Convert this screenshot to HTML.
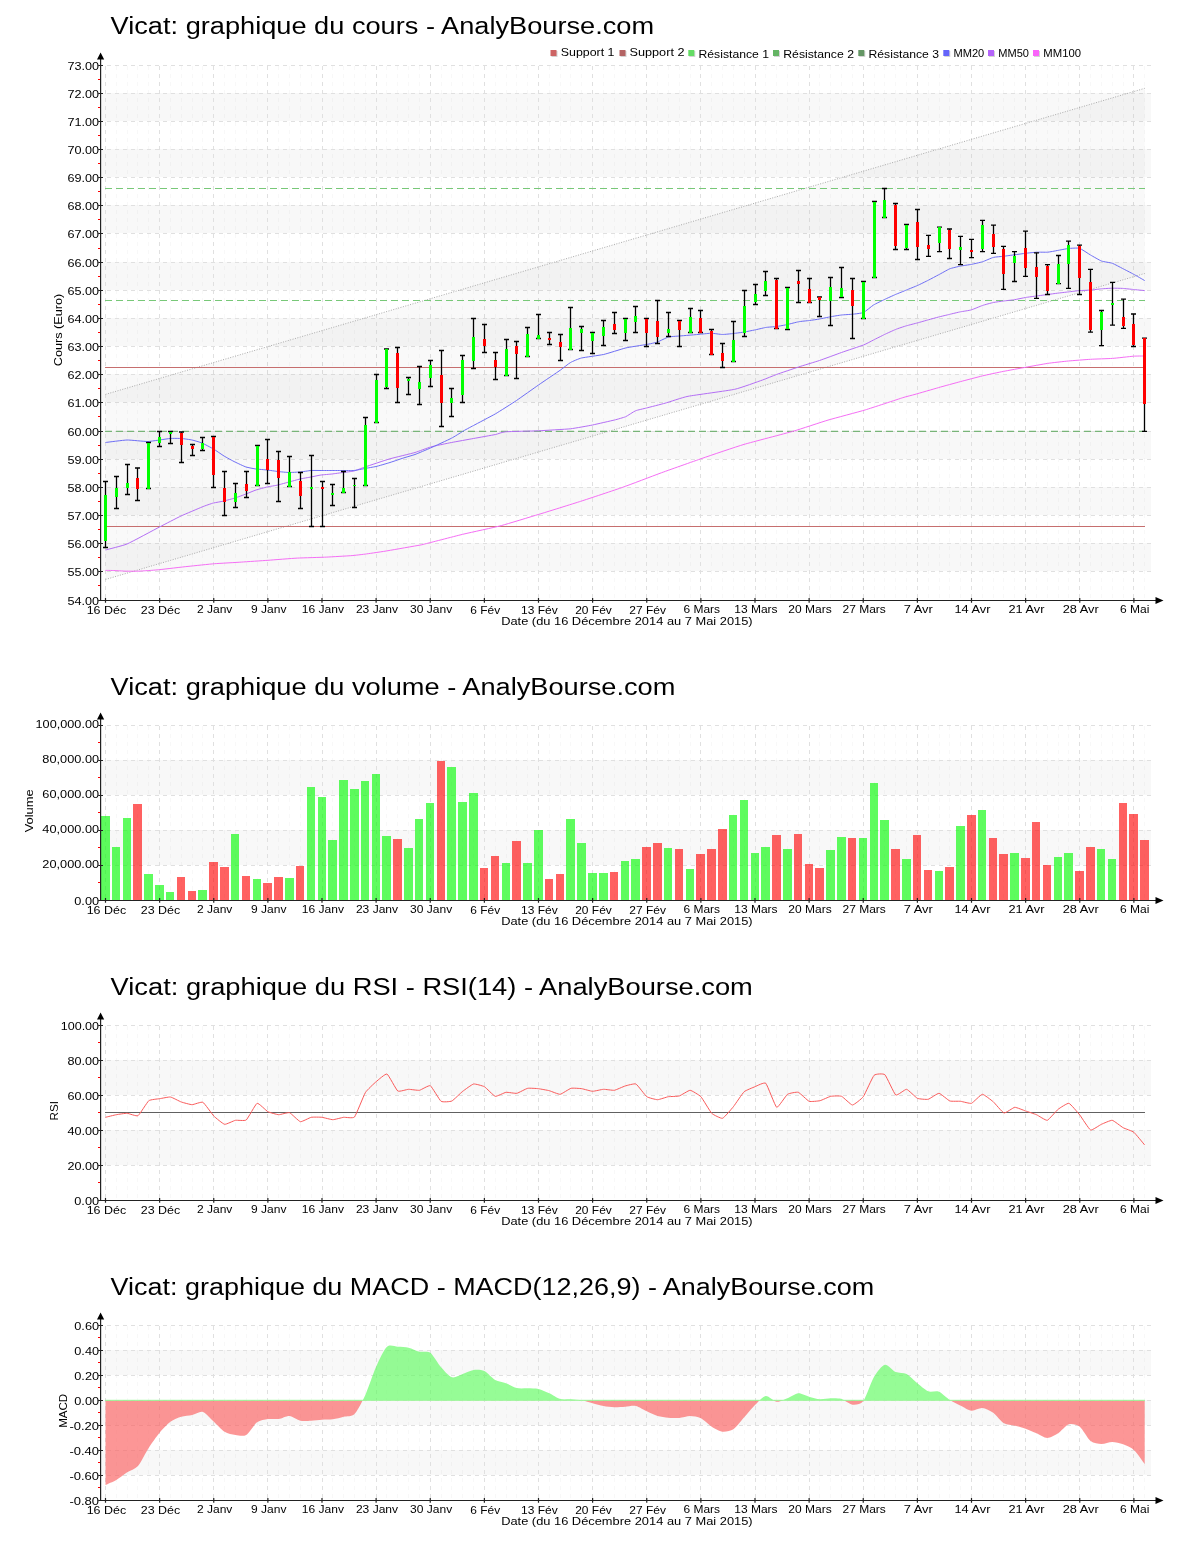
<!DOCTYPE html>
<html><head><meta charset="utf-8"><title>Vicat</title>
<style>html,body{margin:0;padding:0;background:#fff}svg{display:block;will-change:transform}text{font-family:"Liberation Sans",sans-serif}</style>
</head><body>
<svg width="1200" height="1550" viewBox="0 0 1200 1550">
<rect width="1200" height="1550" fill="#fff"/>
<text x="110.60" y="34.40" font-size="23" text-anchor="start" textLength="543.50" lengthAdjust="spacingAndGlyphs" fill="#000">Vicat: graphique du cours - AnalyBourse.com</text>
<rect x="101.5" y="93.00" width="1049.5" height="28.00" fill="#f8f8f8" shape-rendering="crispEdges"/>
<rect x="101.5" y="149.00" width="1049.5" height="28.00" fill="#f8f8f8" shape-rendering="crispEdges"/>
<rect x="101.5" y="205.00" width="1049.5" height="28.00" fill="#f8f8f8" shape-rendering="crispEdges"/>
<rect x="101.5" y="262.00" width="1049.5" height="28.00" fill="#f8f8f8" shape-rendering="crispEdges"/>
<rect x="101.5" y="318.00" width="1049.5" height="28.00" fill="#f8f8f8" shape-rendering="crispEdges"/>
<rect x="101.5" y="374.00" width="1049.5" height="28.00" fill="#f8f8f8" shape-rendering="crispEdges"/>
<rect x="101.5" y="431.00" width="1049.5" height="28.00" fill="#f8f8f8" shape-rendering="crispEdges"/>
<rect x="101.5" y="487.00" width="1049.5" height="28.00" fill="#f8f8f8" shape-rendering="crispEdges"/>
<rect x="101.5" y="543.00" width="1049.5" height="28.00" fill="#f8f8f8" shape-rendering="crispEdges"/>
<path d="M116.33 66.00V600.00M127.15 66.00V600.00M137.97 66.00V600.00M148.80 66.00V600.00M170.45 66.00V600.00M181.28 66.00V600.00M192.10 66.00V600.00M202.93 66.00V600.00M224.58 66.00V600.00M235.40 66.00V600.00M246.23 66.00V600.00M257.05 66.00V600.00M278.70 66.00V600.00M289.52 66.00V600.00M300.35 66.00V600.00M311.18 66.00V600.00M332.83 66.00V600.00M343.65 66.00V600.00M354.48 66.00V600.00M365.30 66.00V600.00M386.95 66.00V600.00M397.78 66.00V600.00M408.60 66.00V600.00M419.43 66.00V600.00M441.08 66.00V600.00M451.90 66.00V600.00M462.73 66.00V600.00M473.55 66.00V600.00M495.20 66.00V600.00M506.03 66.00V600.00M516.85 66.00V600.00M527.68 66.00V600.00M549.33 66.00V600.00M560.15 66.00V600.00M570.98 66.00V600.00M581.80 66.00V600.00M603.45 66.00V600.00M614.28 66.00V600.00M625.10 66.00V600.00M635.93 66.00V600.00M657.58 66.00V600.00M668.40 66.00V600.00M679.23 66.00V600.00M690.05 66.00V600.00M711.70 66.00V600.00M722.53 66.00V600.00M733.35 66.00V600.00M744.18 66.00V600.00M765.83 66.00V600.00M776.65 66.00V600.00M787.48 66.00V600.00M798.30 66.00V600.00M819.95 66.00V600.00M830.78 66.00V600.00M841.60 66.00V600.00M852.43 66.00V600.00M874.08 66.00V600.00M884.90 66.00V600.00M895.73 66.00V600.00M906.55 66.00V600.00M928.20 66.00V600.00M939.03 66.00V600.00M949.85 66.00V600.00M960.68 66.00V600.00M982.33 66.00V600.00M993.15 66.00V600.00M1003.98 66.00V600.00M1014.80 66.00V600.00M1036.45 66.00V600.00M1047.28 66.00V600.00M1058.10 66.00V600.00M1068.93 66.00V600.00M1090.58 66.00V600.00M1101.40 66.00V600.00M1112.23 66.00V600.00M1123.05 66.00V600.00M1144.70 66.00V600.00" stroke="rgba(0,0,0,0.026)" stroke-width="1" stroke-dasharray="4 4" fill="none" shape-rendering="crispEdges"/>
<path d="M105.50 66.00V600.00M159.62 66.00V600.00M213.75 66.00V600.00M267.88 66.00V600.00M322.00 66.00V600.00M376.12 66.00V600.00M430.25 66.00V600.00M484.38 66.00V600.00M538.50 66.00V600.00M592.62 66.00V600.00M646.75 66.00V600.00M700.88 66.00V600.00M755.00 66.00V600.00M809.13 66.00V600.00M863.25 66.00V600.00M917.38 66.00V600.00M971.50 66.00V600.00M1025.62 66.00V600.00M1079.75 66.00V600.00M1133.88 66.00V600.00" stroke="#e0e0e0" stroke-width="1" stroke-dasharray="4 4" fill="none" shape-rendering="crispEdges"/>
<path d="M107 65.50H1151.0M107 93.50H1151.0M107 121.50H1151.0M107 149.50H1151.0M107 177.50H1151.0M107 205.50H1151.0M107 233.50H1151.0M107 262.50H1151.0M107 290.50H1151.0M107 318.50H1151.0M107 346.50H1151.0M107 374.50H1151.0M107 402.50H1151.0M107 431.50H1151.0M107 459.50H1151.0M107 487.50H1151.0M107 515.50H1151.0M107 543.50H1151.0M107 571.50H1151.0" stroke="#e0e0e0" stroke-width="1" stroke-dasharray="4 4" fill="none" shape-rendering="crispEdges"/>
<polygon points="105.5,394.4 1144.7,88.3 1144.7,273.5 105.5,579.5" fill="rgba(0,0,0,0.025)"/>
<path d="M105.5 394.38L1144.7 88.34M105.5 579.50L1144.7 273.46" stroke="#aaa" stroke-width="1" stroke-dasharray="1 1.5" fill="none"/>
<path d="M105 526.5H1145M105 367.5H1145" stroke="#c66e6e" stroke-width="1" fill="none" shape-rendering="crispEdges"/>
<path d="M105 188.5H1145" stroke="#78c878" stroke-width="1.2" stroke-dasharray="7 4" fill="none"/>
<path d="M105 300.5H1145" stroke="#78c878" stroke-width="1.2" stroke-dasharray="7 4" fill="none"/>
<path d="M105 431.4H1145" stroke="#78b478" stroke-width="1.2" stroke-dasharray="7 4" fill="none"/>
<path d="M105.5 570.4C106.3 570.4 114.4 570.5 116.0 570.6C117.6 570.7 125.4 571.2 127.0 571.2C128.6 571.2 135.4 571.2 137.0 571.2C138.6 571.2 146.3 570.7 148.0 570.6C149.7 570.5 157.0 569.9 160.0 569.6C163.0 569.3 183.9 566.8 188.0 566.4C192.1 566.0 210.7 564.0 214.7 563.7C218.7 563.4 237.3 562.4 241.3 562.1C245.3 561.8 263.8 560.6 268.0 560.3C272.2 560.0 292.9 558.3 297.3 558.1C301.7 557.9 322.7 557.3 326.7 557.1C330.7 556.9 347.7 555.9 350.7 555.7C353.7 555.5 363.9 554.3 366.7 553.9C369.5 553.5 384.0 551.4 388.0 550.7C392.0 550.0 417.1 545.6 420.0 545.1C422.9 544.6 423.4 544.3 426.7 543.5C430.0 542.7 458.4 535.3 464.0 534.0C469.6 532.7 495.7 527.1 501.3 525.6C506.9 524.1 532.7 516.2 538.7 514.4C544.7 512.6 574.4 503.3 580.7 501.3C587.0 499.3 616.8 489.4 622.7 487.3C628.6 485.2 654.1 475.5 660.0 473.3C665.9 471.1 695.7 460.6 702.0 458.4C708.3 456.2 737.2 446.4 744.0 444.4C750.8 442.4 786.7 433.1 793.0 431.3C799.3 429.5 822.6 421.7 828.0 420.1C833.4 418.5 859.7 411.6 865.3 409.9C870.9 408.2 899.0 398.9 902.7 397.7C906.4 396.5 912.3 395.2 915.0 394.4C917.7 393.6 935.2 388.6 938.6 387.6C942.0 386.6 957.2 382.5 960.5 381.6C963.8 380.7 979.2 376.7 982.4 375.9C985.6 375.1 1000.2 372.0 1003.4 371.4C1006.6 370.8 1022.2 367.9 1025.5 367.3C1028.8 366.7 1044.4 363.9 1047.6 363.4C1050.8 362.9 1065.2 361.3 1068.4 361.0C1071.6 360.7 1087.2 359.5 1090.5 359.3C1093.8 359.1 1109.2 358.6 1112.4 358.4C1115.6 358.2 1131.0 356.4 1133.4 356.2C1135.8 356.0 1143.9 356.0 1144.7 356.0" stroke="#f56ef5" stroke-width="1" fill="none"/>
<path d="M105.5 550.0C107.1 549.5 123.0 545.7 127.0 544.0C131.1 542.3 155.4 529.1 159.5 527.0C163.6 524.9 177.8 517.5 181.0 516.0C184.2 514.5 199.6 508.0 202.0 507.0C204.4 506.0 211.8 503.4 213.5 503.0C215.2 502.6 222.4 501.4 224.0 501.0C225.6 500.6 233.3 498.5 235.0 498.0C236.7 497.5 244.4 494.6 246.0 494.0C247.6 493.4 254.4 490.5 256.0 490.0C257.6 489.5 265.4 487.4 267.0 487.0C268.6 486.6 276.4 485.4 278.0 485.0C279.6 484.6 287.4 482.4 289.0 482.0C290.6 481.6 298.4 479.4 300.0 479.0C301.6 478.6 309.4 477.3 311.0 477.0C312.6 476.7 319.4 475.2 321.0 475.0C322.6 474.8 330.4 474.2 332.0 474.0C333.6 473.8 341.4 472.7 343.0 472.5C344.6 472.3 352.4 471.4 354.0 471.0C355.6 470.6 362.3 467.9 365.0 467.0C367.7 466.1 386.2 459.8 390.0 458.8C393.8 457.7 412.0 453.4 415.0 452.5C418.0 451.6 427.8 447.8 430.5 447.0C433.2 446.2 448.3 443.1 451.5 442.5C454.7 441.9 470.2 439.1 473.5 438.5C476.8 437.9 493.1 435.0 495.5 434.5C497.9 434.0 502.3 432.0 505.5 431.8C508.7 431.5 533.6 431.0 538.5 430.8C543.4 430.5 566.5 429.2 570.5 428.8C574.5 428.3 589.2 425.7 592.5 425.0C595.8 424.3 612.0 420.6 614.5 420.0C617.0 419.4 623.9 417.4 625.5 416.8C627.1 416.1 633.9 411.4 635.5 410.8C637.1 410.1 644.3 408.6 646.5 408.0C648.7 407.4 661.9 404.1 665.0 403.2C668.1 402.4 682.8 397.3 688.0 396.3C693.2 395.3 729.1 390.5 734.7 389.3C740.3 388.1 759.4 381.1 762.5 380.0C765.6 378.9 773.8 375.5 776.5 374.5C779.2 373.5 795.3 368.1 798.5 367.0C801.7 365.9 816.3 361.6 819.5 360.5C822.7 359.4 838.2 353.7 841.5 352.5C844.8 351.3 861.1 345.9 863.5 345.0C865.9 344.1 871.9 340.8 873.5 340.0C875.1 339.2 882.9 335.3 884.5 334.5C886.1 333.7 893.9 330.2 895.5 329.5C897.1 328.8 904.9 326.2 906.5 325.8C908.1 325.3 915.9 323.3 917.5 322.9C919.1 322.5 926.8 320.2 928.4 319.8C930.0 319.4 937.0 317.4 938.6 317.0C940.2 316.6 947.9 314.8 949.5 314.4C951.1 314.0 958.9 312.1 960.5 311.8C962.1 311.5 969.7 310.4 971.3 309.9C972.9 309.4 980.7 306.1 982.4 305.5C984.1 304.9 991.8 302.8 993.4 302.5C995.0 302.2 1001.8 301.2 1003.4 301.0C1005.0 300.8 1012.8 300.0 1014.5 299.7C1016.2 299.4 1023.8 297.8 1025.5 297.5C1027.2 297.2 1034.9 296.2 1036.6 296.0C1038.3 295.8 1046.0 294.7 1047.6 294.5C1049.2 294.3 1055.8 293.4 1057.4 293.2C1059.0 293.0 1066.7 292.1 1068.4 291.9C1070.1 291.7 1077.8 290.7 1079.5 290.6C1081.2 290.5 1088.8 290.2 1090.5 290.1C1092.2 290.0 1100.0 288.9 1101.6 288.8C1103.2 288.7 1110.8 288.2 1112.4 288.2C1114.0 288.2 1121.0 288.3 1122.6 288.4C1124.2 288.5 1131.7 289.3 1133.4 289.5C1135.1 289.7 1143.9 290.5 1144.7 290.6" stroke="#b46ef5" stroke-width="1" fill="none"/>
<path d="M105.5 442.5C107.1 442.3 123.8 440.1 127.0 440.0C130.2 439.9 144.8 441.6 148.0 441.5C151.2 441.4 167.5 438.7 170.0 438.5C172.5 438.3 179.8 438.4 181.5 438.5C183.2 438.6 190.5 439.7 192.0 440.0C193.5 440.3 200.4 442.3 202.0 443.0C203.6 443.7 211.8 448.0 213.5 449.0C215.2 450.0 222.4 455.0 224.0 456.0C225.6 457.0 233.3 461.2 235.0 462.0C236.7 462.8 244.4 466.5 246.0 467.0C247.6 467.5 254.4 468.8 256.0 469.0C257.6 469.2 265.4 469.8 267.0 470.0C268.6 470.2 276.4 471.3 278.0 471.5C279.6 471.7 287.4 472.5 289.0 472.5C290.6 472.5 298.4 472.1 300.0 472.0C301.6 471.9 309.4 470.6 311.0 470.5C312.6 470.4 319.4 470.5 321.0 470.5C322.6 470.5 330.4 470.5 332.0 470.5C333.6 470.5 341.4 470.5 343.0 470.5C344.6 470.5 352.4 470.6 354.0 470.5C355.6 470.4 363.4 468.8 365.0 468.5C366.6 468.2 374.1 466.9 376.0 466.5C377.9 466.1 387.8 463.2 390.0 462.5C392.2 461.8 403.1 458.1 405.0 457.5C406.9 456.9 413.1 455.2 415.0 454.5C416.9 453.8 427.8 449.2 430.5 448.0C433.2 446.8 449.1 439.5 451.5 438.2C453.9 437.0 460.9 432.5 462.5 431.5C464.1 430.5 471.0 426.8 473.5 425.5C476.0 424.2 492.3 415.6 495.5 413.8C498.7 411.9 513.3 402.7 516.5 400.5C519.7 398.3 535.2 387.3 538.5 385.0C541.8 382.7 558.1 371.7 560.5 370.0C562.9 368.3 568.9 363.4 570.5 362.5C572.1 361.6 579.0 358.6 581.5 358.0C584.0 357.4 600.2 355.2 603.5 354.5C606.8 353.8 622.3 348.8 625.5 348.0C628.7 347.2 644.1 344.9 646.5 344.5C648.9 344.1 655.9 342.6 657.5 342.0C659.1 341.4 666.9 337.4 668.5 337.0C670.1 336.6 677.1 336.2 679.5 336.0C681.9 335.8 698.1 334.5 700.5 334.2C702.9 334.0 709.9 333.2 711.5 333.2C713.1 333.3 720.9 334.5 722.5 334.5C724.1 334.5 731.9 333.7 733.5 333.5C735.1 333.3 742.9 332.3 744.5 332.0C746.1 331.7 752.9 330.3 754.5 330.0C756.1 329.7 763.9 327.8 765.5 327.5C767.1 327.2 774.9 326.7 776.5 326.5C778.1 326.3 785.9 324.9 787.5 324.5C789.1 324.1 796.9 322.1 798.5 321.8C800.1 321.4 807.9 320.7 809.5 320.5C811.1 320.3 817.9 319.3 819.5 319.0C821.1 318.7 828.9 317.1 830.5 316.8C832.1 316.4 839.9 315.2 841.5 315.0C843.1 314.8 850.9 314.4 852.5 314.2C854.1 314.1 861.9 313.2 863.5 312.5C865.1 311.8 871.9 306.0 873.5 305.0C875.1 304.0 882.9 300.3 884.5 299.5C886.1 298.7 893.9 295.2 895.5 294.5C897.1 293.8 904.9 290.7 906.5 290.0C908.1 289.3 915.9 286.2 917.5 285.5C919.1 284.8 926.8 281.0 928.4 280.2C930.0 279.4 937.0 275.6 938.6 274.8C940.2 274.0 947.9 269.6 949.5 268.9C951.1 268.2 958.9 266.4 960.5 266.1C962.1 265.8 969.7 264.7 971.3 264.4C972.9 264.1 980.7 262.3 982.4 261.8C984.1 261.3 991.8 257.8 993.4 257.4C995.0 257.0 1001.8 256.5 1003.4 256.3C1005.0 256.1 1012.8 255.0 1014.5 254.8C1016.2 254.6 1023.8 253.5 1025.5 253.3C1027.2 253.1 1034.9 252.3 1036.6 252.2C1038.3 252.1 1046.0 252.3 1047.6 252.2C1049.2 252.1 1055.8 250.8 1057.4 250.5C1059.0 250.2 1066.7 248.7 1068.4 248.5C1070.1 248.3 1077.8 247.8 1079.5 248.3C1081.2 248.8 1088.8 254.0 1090.5 255.0C1092.2 256.0 1100.0 260.5 1101.6 261.1C1103.2 261.7 1110.8 262.7 1112.4 263.3C1114.0 263.9 1121.0 267.7 1122.6 268.5C1124.2 269.3 1131.7 273.2 1133.4 274.1C1135.1 275.0 1143.9 280.1 1144.7 280.6" stroke="#6e6ef5" stroke-width="1" fill="none"/>
<path d="M105.50 481.5V547.5M103.00 481.5h5M103.00 547.5h5M116.50 476.5V508.5M114.00 476.5h5M114.00 508.5h5M127.50 464.5V494.5M125.00 464.5h5M125.00 494.5h5M137.50 468.0V500.5M135.00 468.0h5M135.00 500.5h5M148.50 442.5V488.5M146.00 442.5h5M146.00 488.5h5M159.50 431.5V446.5M157.00 431.5h5M157.00 446.5h5M170.50 431.5V443.5M168.00 431.5h5M168.00 443.5h5M181.50 432.0V462.5M179.00 432.0h5M179.00 462.5h5M192.50 444.5V455.5M190.00 444.5h5M190.00 455.5h5M202.50 437.5V450.5M200.00 437.5h5M200.00 450.5h5M213.50 436.5V487.5M211.00 436.5h5M211.00 487.5h5M224.50 471.5V515.5M222.00 471.5h5M222.00 515.5h5M235.50 483.5V507.5M233.00 483.5h5M233.00 507.5h5M246.50 471.5V497.5M244.00 471.5h5M244.00 497.5h5M257.50 445.5V485.5M255.00 445.5h5M255.00 485.5h5M267.50 439.5V483.5M265.00 439.5h5M265.00 483.5h5M278.50 451.5V501.5M276.00 451.5h5M276.00 501.5h5M289.50 456.5V486.5M287.00 456.5h5M287.00 486.5h5M300.50 472.5V508.5M298.00 472.5h5M298.00 508.5h5M311.50 455.5V526.5M309.00 455.5h5M309.00 526.5h5M322.50 481.5V526.5M320.00 481.5h5M320.00 526.5h5M332.50 484.5V505.5M330.00 484.5h5M330.00 505.5h5M343.50 471.5V492.5M341.00 471.5h5M341.00 492.5h5M354.50 478.5V507.5M352.00 478.5h5M352.00 507.5h5M365.50 417.5V485.5M363.00 417.5h5M363.00 485.5h5M376.50 374.5V422.5M374.00 374.5h5M374.00 422.5h5M386.50 349.0V388.5M384.00 349.0h5M384.00 388.5h5M397.50 347.5V402.5M395.00 347.5h5M395.00 402.5h5M408.50 377.5V394.5M406.00 377.5h5M406.00 394.5h5M419.50 366.5V404.5M417.00 366.5h5M417.00 404.5h5M430.50 360.5V386.5M428.00 360.5h5M428.00 386.5h5M441.50 350.5V426.5M439.00 350.5h5M439.00 426.5h5M451.50 388.5V416.5M449.00 388.5h5M449.00 416.5h5M462.50 355.5V402.5M460.00 355.5h5M460.00 402.5h5M473.50 318.5V368.5M471.00 318.5h5M471.00 368.5h5M484.50 324.5V352.5M482.00 324.5h5M482.00 352.5h5M495.50 352.5V379.5M493.00 352.5h5M493.00 379.5h5M506.50 339.5V375.5M504.00 339.5h5M504.00 375.5h5M516.50 341.5V378.5M514.00 341.5h5M514.00 378.5h5M527.50 327.5V356.5M525.00 327.5h5M525.00 356.5h5M538.50 314.5V338.5M536.00 314.5h5M536.00 338.5h5M549.50 332.5V344.5M547.00 332.5h5M547.00 344.5h5M560.50 334.5V360.5M558.00 334.5h5M558.00 360.5h5M570.50 307.5V349.5M568.00 307.5h5M568.00 349.5h5M581.50 326.5V350.5M579.00 326.5h5M579.00 350.5h5M592.50 332.5V353.5M590.00 332.5h5M590.00 353.5h5M603.50 320.5V345.5M601.00 320.5h5M601.00 345.5h5M614.50 312.5V333.5M612.00 312.5h5M612.00 333.5h5M625.50 318.5V340.5M623.00 318.5h5M623.00 340.5h5M635.50 306.5V332.5M633.00 306.5h5M633.00 332.5h5M646.50 318.5V346.5M644.00 318.5h5M644.00 346.5h5M657.50 300.5V343.5M655.00 300.5h5M655.00 343.5h5M668.50 312.5V336.5M666.00 312.5h5M666.00 336.5h5M679.50 320.5V346.5M677.00 320.5h5M677.00 346.5h5M690.50 308.5V332.5M688.00 308.5h5M688.00 332.5h5M700.50 310.5V332.5M698.00 310.5h5M698.00 332.5h5M711.50 329.5V354.5M709.00 329.5h5M709.00 354.5h5M722.50 343.5V367.5M720.00 343.5h5M720.00 367.5h5M733.50 321.5V361.5M731.00 321.5h5M731.00 361.5h5M744.50 290.5V336.5M742.00 290.5h5M742.00 336.5h5M755.50 284.5V304.5M753.00 284.5h5M753.00 304.5h5M765.50 271.5V295.5M763.00 271.5h5M763.00 295.5h5M776.50 278.5V328.5M774.00 278.5h5M774.00 328.5h5M787.50 287.5V329.5M785.00 287.5h5M785.00 329.5h5M798.50 270.5V302.5M796.00 270.5h5M796.00 302.5h5M809.50 278.5V302.5M807.00 278.5h5M807.00 302.5h5M819.50 297.0V316.5M817.00 297.0h5M817.00 316.5h5M830.50 277.5V325.5M828.00 277.5h5M828.00 325.5h5M841.50 267.5V297.5M839.00 267.5h5M839.00 297.5h5M852.50 278.5V338.5M850.00 278.5h5M850.00 338.5h5M863.50 281.5V318.5M861.00 281.5h5M861.00 318.5h5M874.50 201.5V277.5M872.00 201.5h5M872.00 277.5h5M884.50 188.5V217.5M882.00 188.5h5M882.00 217.5h5M895.50 203.5V249.5M893.00 203.5h5M893.00 249.5h5M906.50 224.5V249.5M904.00 224.5h5M904.00 249.5h5M917.50 209.5V259.5M915.00 209.5h5M915.00 259.5h5M928.50 235.3V256.4M926.00 235.3h5M926.00 256.4h5M939.50 227.2V251.6M937.00 227.2h5M937.00 251.6h5M949.50 229.0V258.5M947.00 229.0h5M947.00 258.5h5M960.50 236.4V264.6M958.00 236.4h5M958.00 264.6h5M971.50 239.4V257.6M969.00 239.4h5M969.00 257.6h5M982.50 220.4V251.6M980.00 220.4h5M980.00 251.6h5M993.50 225.1V253.3M991.00 225.1h5M991.00 253.3h5M1003.50 246.4V289.3M1001.00 246.4h5M1001.00 289.3h5M1014.50 251.6V281.5M1012.00 251.6h5M1012.00 281.5h5M1025.50 231.2V276.3M1023.00 231.2h5M1023.00 276.3h5M1036.50 252.9V298.4M1034.00 252.9h5M1034.00 298.4h5M1047.50 264.6V294.5M1045.00 264.6h5M1045.00 294.5h5M1058.50 255.5V283.6M1056.00 255.5h5M1056.00 283.6h5M1068.50 241.2V288.4M1066.00 241.2h5M1066.00 288.4h5M1079.50 245.1V294.5M1077.00 245.1h5M1077.00 294.5h5M1090.50 269.3V332.2M1088.00 269.3h5M1088.00 332.2h5M1101.50 310.5V345.6M1099.00 310.5h5M1099.00 345.6h5M1112.50 282.3V325.2M1110.00 282.3h5M1110.00 325.2h5M1123.50 299.2V328.3M1121.00 299.2h5M1121.00 328.3h5M1133.50 314.0V346.5M1131.00 314.0h5M1131.00 346.5h5M1144.50 338.2V431.4M1142.00 338.2h5M1142.00 431.4h5" stroke="#000" stroke-width="1.3" fill="none"/>
<path d="M104.00 495.0h3V540.5h-3zM115.00 487.5h3V496.5h-3zM126.00 483.0h3V487.5h-3zM147.00 442.5h3V488.5h-3zM158.00 436.5h3V443.0h-3zM169.00 431.5h3V434.0h-3zM201.00 442.5h3V449.0h-3zM234.00 493.0h3V501.5h-3zM256.00 445.5h3V485.5h-3zM288.00 471.5h3V486.5h-3zM310.00 486.5h3V488.5h-3zM331.00 492.5h3V494.5h-3zM342.00 487.5h3V492.5h-3zM353.00 484.5h3V486.0h-3zM364.00 424.5h3V485.5h-3zM375.00 380.0h3V422.5h-3zM385.00 349.0h3V386.5h-3zM407.00 379.0h3V381.0h-3zM418.00 382.0h3V389.0h-3zM429.00 365.0h3V378.0h-3zM450.00 398.0h3V403.0h-3zM461.00 360.0h3V395.0h-3zM472.00 337.0h3V361.0h-3zM505.00 349.0h3V375.5h-3zM526.00 334.0h3V356.5h-3zM537.00 335.0h3V338.5h-3zM569.00 328.0h3V349.5h-3zM580.00 329.0h3V333.0h-3zM591.00 332.5h3V341.0h-3zM602.00 327.0h3V336.0h-3zM624.00 318.5h3V333.0h-3zM634.00 316.0h3V322.0h-3zM667.00 329.0h3V333.0h-3zM689.00 317.0h3V332.5h-3zM732.00 340.0h3V361.5h-3zM743.00 306.0h3V333.0h-3zM754.00 294.0h3V302.0h-3zM764.00 281.0h3V291.0h-3zM786.00 287.5h3V328.5h-3zM829.00 287.0h3V301.0h-3zM840.00 288.0h3V296.5h-3zM862.00 281.5h3V318.5h-3zM873.00 201.5h3V277.5h-3zM883.00 200.0h3V217.5h-3zM905.00 224.5h3V247.5h-3zM938.00 227.2h3V243.0h-3zM959.00 247.2h3V249.8h-3zM981.00 225.1h3V249.0h-3zM1013.00 255.9h3V262.8h-3zM1057.00 264.1h3V283.6h-3zM1067.00 245.1h3V263.7h-3zM1100.00 312.2h3V329.6h-3zM1111.00 303.1h3V304.9h-3z" fill="#00ff00" shape-rendering="crispEdges"/>
<path d="M136.00 478.0h3V488.5h-3zM180.00 432.5h3V444.5h-3zM191.00 446.0h3V449.0h-3zM212.00 436.5h3V474.5h-3zM223.00 487.5h3V501.5h-3zM245.00 483.5h3V490.5h-3zM266.00 458.5h3V469.5h-3zM277.00 459.5h3V477.5h-3zM299.00 480.5h3V495.5h-3zM321.00 486.5h3V489.0h-3zM396.00 353.0h3V387.5h-3zM440.00 375.0h3V403.0h-3zM483.00 339.0h3V346.0h-3zM494.00 360.0h3V367.0h-3zM515.00 346.0h3V354.0h-3zM548.00 338.0h3V340.0h-3zM559.00 342.0h3V347.0h-3zM613.00 324.0h3V330.0h-3zM645.00 318.5h3V333.0h-3zM656.00 321.0h3V337.0h-3zM678.00 320.5h3V330.0h-3zM699.00 318.0h3V332.5h-3zM710.00 331.0h3V354.5h-3zM721.00 353.0h3V361.0h-3zM775.00 279.5h3V328.5h-3zM797.00 281.0h3V284.0h-3zM808.00 289.0h3V302.5h-3zM818.00 297.0h3V300.0h-3zM851.00 290.0h3V306.0h-3zM894.00 204.5h3V246.0h-3zM916.00 222.0h3V247.0h-3zM927.00 245.0h3V249.0h-3zM948.00 229.5h3V249.0h-3zM970.00 250.3h3V252.0h-3zM992.00 233.8h3V246.8h-3zM1002.00 249.0h3V273.7h-3zM1024.00 248.1h3V268.0h-3zM1035.00 267.2h3V276.7h-3zM1046.00 265.9h3V291.0h-3zM1078.00 245.5h3V277.6h-3zM1089.00 282.3h3V330.0h-3zM1122.00 317.0h3V325.7h-3zM1132.00 324.4h3V345.2h-3zM1143.00 338.2h3V403.7h-3z" fill="#ff0000" shape-rendering="crispEdges"/>
<path d="M100.6 59.00V600.50H1156" stroke="#222" stroke-width="1.2" fill="none"/>
<path d="M100.6 52.40l3.6 7.2h-7.2z M1163.5 600.50l-8 3.6v-7.2z" fill="#000"/>
<path d="M98.3 65.50H103M98.3 93.50H103M98.3 121.50H103M98.3 149.50H103M98.3 177.50H103M98.3 205.50H103M98.3 233.50H103M98.3 262.50H103M98.3 290.50H103M98.3 318.50H103M98.3 346.50H103M98.3 374.50H103M98.3 402.50H103M98.3 431.50H103M98.3 459.50H103M98.3 487.50H103M98.3 515.50H103M98.3 543.50H103M98.3 571.50H103M98.3 600.50H103M105.50 598.00V602.70M159.62 598.00V602.70M213.75 598.00V602.70M267.88 598.00V602.70M322.00 598.00V602.70M376.12 598.00V602.70M430.25 598.00V602.70M484.38 598.00V602.70M538.50 598.00V602.70M592.62 598.00V602.70M646.75 598.00V602.70M700.88 598.00V602.70M755.00 598.00V602.70M809.13 598.00V602.70M863.25 598.00V602.70M917.38 598.00V602.70M971.50 598.00V602.70M1025.62 598.00V602.70M1079.75 598.00V602.70M1133.88 598.00V602.70" stroke="#222" stroke-width="1.2" fill="none"/>
<path d="M97.6 79.50H100.3M97.6 107.50H100.3M97.6 135.50H100.3M97.6 163.50H100.3M97.6 191.50H100.3M97.6 219.50H100.3M97.6 248.50H100.3M97.6 276.50H100.3M97.6 304.50H100.3M97.6 332.50H100.3M97.6 360.50H100.3M97.6 388.50H100.3M97.6 416.50H100.3M97.6 445.50H100.3M97.6 473.50H100.3M97.6 501.50H100.3M97.6 529.50H100.3M97.6 557.50H100.3M97.6 585.50H100.3" stroke="#ff0000" stroke-width="1" fill="none" shape-rendering="crispEdges"/>
<text x="99.10" y="70.00" font-size="10.5" text-anchor="end" textLength="31.63" lengthAdjust="spacingAndGlyphs" fill="#000">73.00</text>
<text x="99.10" y="98.00" font-size="10.5" text-anchor="end" textLength="31.63" lengthAdjust="spacingAndGlyphs" fill="#000">72.00</text>
<text x="99.10" y="126.00" font-size="10.5" text-anchor="end" textLength="31.63" lengthAdjust="spacingAndGlyphs" fill="#000">71.00</text>
<text x="99.10" y="154.00" font-size="10.5" text-anchor="end" textLength="31.63" lengthAdjust="spacingAndGlyphs" fill="#000">70.00</text>
<text x="99.10" y="182.00" font-size="10.5" text-anchor="end" textLength="31.63" lengthAdjust="spacingAndGlyphs" fill="#000">69.00</text>
<text x="99.10" y="210.00" font-size="10.5" text-anchor="end" textLength="31.63" lengthAdjust="spacingAndGlyphs" fill="#000">68.00</text>
<text x="99.10" y="238.00" font-size="10.5" text-anchor="end" textLength="31.63" lengthAdjust="spacingAndGlyphs" fill="#000">67.00</text>
<text x="99.10" y="267.00" font-size="10.5" text-anchor="end" textLength="31.63" lengthAdjust="spacingAndGlyphs" fill="#000">66.00</text>
<text x="99.10" y="295.00" font-size="10.5" text-anchor="end" textLength="31.63" lengthAdjust="spacingAndGlyphs" fill="#000">65.00</text>
<text x="99.10" y="323.00" font-size="10.5" text-anchor="end" textLength="31.63" lengthAdjust="spacingAndGlyphs" fill="#000">64.00</text>
<text x="99.10" y="351.00" font-size="10.5" text-anchor="end" textLength="31.63" lengthAdjust="spacingAndGlyphs" fill="#000">63.00</text>
<text x="99.10" y="379.00" font-size="10.5" text-anchor="end" textLength="31.63" lengthAdjust="spacingAndGlyphs" fill="#000">62.00</text>
<text x="99.10" y="407.00" font-size="10.5" text-anchor="end" textLength="31.63" lengthAdjust="spacingAndGlyphs" fill="#000">61.00</text>
<text x="99.10" y="436.00" font-size="10.5" text-anchor="end" textLength="31.63" lengthAdjust="spacingAndGlyphs" fill="#000">60.00</text>
<text x="99.10" y="464.00" font-size="10.5" text-anchor="end" textLength="31.63" lengthAdjust="spacingAndGlyphs" fill="#000">59.00</text>
<text x="99.10" y="492.00" font-size="10.5" text-anchor="end" textLength="31.63" lengthAdjust="spacingAndGlyphs" fill="#000">58.00</text>
<text x="99.10" y="520.00" font-size="10.5" text-anchor="end" textLength="31.63" lengthAdjust="spacingAndGlyphs" fill="#000">57.00</text>
<text x="99.10" y="548.00" font-size="10.5" text-anchor="end" textLength="31.63" lengthAdjust="spacingAndGlyphs" fill="#000">56.00</text>
<text x="99.10" y="576.00" font-size="10.5" text-anchor="end" textLength="31.63" lengthAdjust="spacingAndGlyphs" fill="#000">55.00</text>
<text x="99.10" y="605.00" font-size="10.5" text-anchor="end" textLength="31.63" lengthAdjust="spacingAndGlyphs" fill="#000">54.00</text>
<text x="106.40" y="613.70" font-size="10.5" text-anchor="middle" textLength="39.47" lengthAdjust="spacingAndGlyphs" fill="#000">16 Déc</text>
<text x="160.53" y="613.70" font-size="10.5" text-anchor="middle" textLength="39.47" lengthAdjust="spacingAndGlyphs" fill="#000">23 Déc</text>
<text x="214.65" y="612.60" font-size="10.5" text-anchor="middle" textLength="35.38" lengthAdjust="spacingAndGlyphs" fill="#000">2 Janv</text>
<text x="268.77" y="612.60" font-size="10.5" text-anchor="middle" textLength="35.38" lengthAdjust="spacingAndGlyphs" fill="#000">9 Janv</text>
<text x="322.90" y="612.60" font-size="10.5" text-anchor="middle" textLength="42.17" lengthAdjust="spacingAndGlyphs" fill="#000">16 Janv</text>
<text x="377.02" y="612.60" font-size="10.5" text-anchor="middle" textLength="42.17" lengthAdjust="spacingAndGlyphs" fill="#000">23 Janv</text>
<text x="431.15" y="612.60" font-size="10.5" text-anchor="middle" textLength="42.17" lengthAdjust="spacingAndGlyphs" fill="#000">30 Janv</text>
<text x="485.28" y="613.70" font-size="10.5" text-anchor="middle" textLength="29.85" lengthAdjust="spacingAndGlyphs" fill="#000">6 Fév</text>
<text x="539.40" y="613.70" font-size="10.5" text-anchor="middle" textLength="36.64" lengthAdjust="spacingAndGlyphs" fill="#000">13 Fév</text>
<text x="593.52" y="613.70" font-size="10.5" text-anchor="middle" textLength="36.64" lengthAdjust="spacingAndGlyphs" fill="#000">20 Fév</text>
<text x="647.65" y="613.70" font-size="10.5" text-anchor="middle" textLength="36.64" lengthAdjust="spacingAndGlyphs" fill="#000">27 Fév</text>
<text x="701.78" y="612.60" font-size="10.5" text-anchor="middle" textLength="36.56" lengthAdjust="spacingAndGlyphs" fill="#000">6 Mars</text>
<text x="755.90" y="612.60" font-size="10.5" text-anchor="middle" textLength="43.35" lengthAdjust="spacingAndGlyphs" fill="#000">13 Mars</text>
<text x="810.03" y="612.60" font-size="10.5" text-anchor="middle" textLength="43.35" lengthAdjust="spacingAndGlyphs" fill="#000">20 Mars</text>
<text x="864.15" y="612.60" font-size="10.5" text-anchor="middle" textLength="43.35" lengthAdjust="spacingAndGlyphs" fill="#000">27 Mars</text>
<text x="918.28" y="612.60" font-size="10.5" text-anchor="middle" textLength="29.21" lengthAdjust="spacingAndGlyphs" fill="#000">7 Avr</text>
<text x="972.40" y="612.60" font-size="10.5" text-anchor="middle" textLength="36.00" lengthAdjust="spacingAndGlyphs" fill="#000">14 Avr</text>
<text x="1026.53" y="612.60" font-size="10.5" text-anchor="middle" textLength="36.00" lengthAdjust="spacingAndGlyphs" fill="#000">21 Avr</text>
<text x="1080.65" y="612.60" font-size="10.5" text-anchor="middle" textLength="36.00" lengthAdjust="spacingAndGlyphs" fill="#000">28 Avr</text>
<text x="1134.78" y="613.30" font-size="10.5" text-anchor="middle" textLength="29.37" lengthAdjust="spacingAndGlyphs" fill="#000">6 Mai</text>
<text x="626.90" y="625.30" font-size="10.5" text-anchor="middle" textLength="251.50" lengthAdjust="spacingAndGlyphs" fill="#000">Date (du 16 Décembre 2014 au 7 Mai 2015)</text>
<text x="61.80" y="330.00" font-size="10.5" text-anchor="middle" textLength="72.50" lengthAdjust="spacingAndGlyphs" fill="#000" transform="rotate(-90 61.80 330.00)">Cours (Euro)</text>
<rect x="551.5" y="51" width="6" height="6" fill="#d4d4d4"/><rect x="550.5" y="50" width="6" height="6" fill="#cd6464"/>
<text x="560.75" y="56.00" font-size="10.5" text-anchor="start" textLength="53.75" lengthAdjust="spacingAndGlyphs" fill="#000">Support 1</text>
<rect x="620.5" y="51" width="6" height="6" fill="#d4d4d4"/><rect x="619.5" y="50" width="6" height="6" fill="#b46464"/>
<text x="629.50" y="56.00" font-size="10.5" text-anchor="start" textLength="55.00" lengthAdjust="spacingAndGlyphs" fill="#000">Support 2</text>
<rect x="689.3" y="51" width="6" height="6" fill="#d4d4d4"/><rect x="688.3" y="50" width="6" height="6" fill="#64dc64"/>
<text x="698.50" y="58.00" font-size="10.5" text-anchor="start" textLength="70.50" lengthAdjust="spacingAndGlyphs" fill="#000">Résistance 1</text>
<rect x="774" y="51" width="6" height="6" fill="#d4d4d4"/><rect x="773" y="50" width="6" height="6" fill="#64b464"/>
<text x="783.25" y="58.00" font-size="10.5" text-anchor="start" textLength="70.75" lengthAdjust="spacingAndGlyphs" fill="#000">Résistance 2</text>
<rect x="859.3" y="51" width="6" height="6" fill="#d4d4d4"/><rect x="858.3" y="50" width="6" height="6" fill="#649664"/>
<text x="868.50" y="58.00" font-size="10.5" text-anchor="start" textLength="70.50" lengthAdjust="spacingAndGlyphs" fill="#000">Résistance 3</text>
<rect x="944.3" y="51" width="6" height="6" fill="#d4d4d4"/><rect x="943.3" y="50" width="6" height="6" fill="#6464fa"/>
<text x="953.50" y="57.30" font-size="10.5" text-anchor="start" textLength="30.80" lengthAdjust="spacingAndGlyphs" fill="#000">MM20</text>
<rect x="989" y="51" width="6" height="6" fill="#d4d4d4"/><rect x="988" y="50" width="6" height="6" fill="#b464fa"/>
<text x="998.30" y="57.30" font-size="10.5" text-anchor="start" textLength="30.70" lengthAdjust="spacingAndGlyphs" fill="#000">MM50</text>
<rect x="1034" y="51" width="6" height="6" fill="#d4d4d4"/><rect x="1033" y="50" width="6" height="6" fill="#fa64fa"/>
<text x="1043.30" y="57.30" font-size="10.5" text-anchor="start" textLength="37.70" lengthAdjust="spacingAndGlyphs" fill="#000">MM100</text>
<text x="110.60" y="694.50" font-size="23" text-anchor="start" textLength="564.75" lengthAdjust="spacingAndGlyphs" fill="#000">Vicat: graphique du volume - AnalyBourse.com</text>
<rect x="101.5" y="760.00" width="1049.5" height="35.00" fill="#f8f8f8" shape-rendering="crispEdges"/>
<rect x="101.5" y="830.00" width="1049.5" height="35.00" fill="#f8f8f8" shape-rendering="crispEdges"/>
<path d="M116.33 726.00V900.00M127.15 726.00V900.00M137.97 726.00V900.00M148.80 726.00V900.00M170.45 726.00V900.00M181.28 726.00V900.00M192.10 726.00V900.00M202.93 726.00V900.00M224.58 726.00V900.00M235.40 726.00V900.00M246.23 726.00V900.00M257.05 726.00V900.00M278.70 726.00V900.00M289.52 726.00V900.00M300.35 726.00V900.00M311.18 726.00V900.00M332.83 726.00V900.00M343.65 726.00V900.00M354.48 726.00V900.00M365.30 726.00V900.00M386.95 726.00V900.00M397.78 726.00V900.00M408.60 726.00V900.00M419.43 726.00V900.00M441.08 726.00V900.00M451.90 726.00V900.00M462.73 726.00V900.00M473.55 726.00V900.00M495.20 726.00V900.00M506.03 726.00V900.00M516.85 726.00V900.00M527.68 726.00V900.00M549.33 726.00V900.00M560.15 726.00V900.00M570.98 726.00V900.00M581.80 726.00V900.00M603.45 726.00V900.00M614.28 726.00V900.00M625.10 726.00V900.00M635.93 726.00V900.00M657.58 726.00V900.00M668.40 726.00V900.00M679.23 726.00V900.00M690.05 726.00V900.00M711.70 726.00V900.00M722.53 726.00V900.00M733.35 726.00V900.00M744.18 726.00V900.00M765.83 726.00V900.00M776.65 726.00V900.00M787.48 726.00V900.00M798.30 726.00V900.00M819.95 726.00V900.00M830.78 726.00V900.00M841.60 726.00V900.00M852.43 726.00V900.00M874.08 726.00V900.00M884.90 726.00V900.00M895.73 726.00V900.00M906.55 726.00V900.00M928.20 726.00V900.00M939.03 726.00V900.00M949.85 726.00V900.00M960.68 726.00V900.00M982.33 726.00V900.00M993.15 726.00V900.00M1003.98 726.00V900.00M1014.80 726.00V900.00M1036.45 726.00V900.00M1047.28 726.00V900.00M1058.10 726.00V900.00M1068.93 726.00V900.00M1090.58 726.00V900.00M1101.40 726.00V900.00M1112.23 726.00V900.00M1123.05 726.00V900.00M1144.70 726.00V900.00" stroke="rgba(0,0,0,0.026)" stroke-width="1" stroke-dasharray="4 4" fill="none" shape-rendering="crispEdges"/>
<path d="M105.50 726.00V900.00M159.62 726.00V900.00M213.75 726.00V900.00M267.88 726.00V900.00M322.00 726.00V900.00M376.12 726.00V900.00M430.25 726.00V900.00M484.38 726.00V900.00M538.50 726.00V900.00M592.62 726.00V900.00M646.75 726.00V900.00M700.88 726.00V900.00M755.00 726.00V900.00M809.13 726.00V900.00M863.25 726.00V900.00M917.38 726.00V900.00M971.50 726.00V900.00M1025.62 726.00V900.00M1079.75 726.00V900.00M1133.88 726.00V900.00" stroke="#e0e0e0" stroke-width="1" stroke-dasharray="4 4" fill="none" shape-rendering="crispEdges"/>
<path d="M107 725.50H1151.0M107 760.50H1151.0M107 795.50H1151.0M107 830.50H1151.0M107 865.50H1151.0" stroke="#e0e0e0" stroke-width="1" stroke-dasharray="4 4" fill="none" shape-rendering="crispEdges"/>
<path d="M101 816H110V900.0H101zM112 847H120V900.0H112zM123 818H131V900.0H123zM144 874H153V900.0H144zM155 885H164V900.0H155zM166 892H174V900.0H166zM198 890H207V900.0H198zM231 834H239V900.0H231zM253 879H261V900.0H253zM285 878H294V900.0H285zM307 787H315V900.0H307zM318 797H326V900.0H318zM328 840H337V900.0H328zM339 780H348V900.0H339zM350 789H359V900.0H350zM361 781H369V900.0H361zM372 774H380V900.0H372zM382 836H391V900.0H382zM404 848H413V900.0H404zM415 819H423V900.0H415zM426 803H434V900.0H426zM447 767H456V900.0H447zM458 802H467V900.0H458zM469 793H478V900.0H469zM502 863H510V900.0H502zM523 863H532V900.0H523zM534 830H543V900.0H534zM566 819H575V900.0H566zM577 843H586V900.0H577zM588 873H597V900.0H588zM599 873H608V900.0H599zM621 861H629V900.0H621zM631 859H640V900.0H631zM664 848H672V900.0H664zM686 869H694V900.0H686zM729 815H737V900.0H729zM740 800H748V900.0H740zM751 853H759V900.0H751zM761 847H770V900.0H761zM783 849H792V900.0H783zM826 850H835V900.0H826zM837 837H846V900.0H837zM859 838H867V900.0H859zM870 783H878V900.0H870zM880 820H889V900.0H880zM902 859H911V900.0H902zM935 871H943V900.0H935zM956 826H965V900.0H956zM978 810H986V900.0H978zM1010 853H1019V900.0H1010zM1054 857H1062V900.0H1054zM1064 853H1073V900.0H1064zM1097 849H1105V900.0H1097zM1108 859H1116V900.0H1108z" fill="rgba(0,250,0,0.63)" shape-rendering="crispEdges"/>
<path d="M133 804H142V900.0H133zM177 877H185V900.0H177zM188 891H196V900.0H188zM209 862H218V900.0H209zM220 867H229V900.0H220zM242 876H250V900.0H242zM263 883H272V900.0H263zM274 877H283V900.0H274zM296 866H304V900.0H296zM393 839H402V900.0H393zM437 761H445V900.0H437zM480 868H488V900.0H480zM491 856H499V900.0H491zM512 841H521V900.0H512zM545 879H553V900.0H545zM556 874H564V900.0H556zM610 872H618V900.0H610zM642 847H651V900.0H642zM653 843H662V900.0H653zM675 849H683V900.0H675zM696 854H705V900.0H696zM707 849H716V900.0H707zM718 829H727V900.0H718zM772 835H781V900.0H772zM794 834H802V900.0H794zM805 864H813V900.0H805zM815 868H824V900.0H815zM848 838H856V900.0H848zM891 849H900V900.0H891zM913 835H921V900.0H913zM924 870H932V900.0H924zM945 867H954V900.0H945zM967 815H976V900.0H967zM989 838H997V900.0H989zM999 854H1008V900.0H999zM1021 858H1030V900.0H1021zM1032 822H1040V900.0H1032zM1043 865H1051V900.0H1043zM1075 871H1084V900.0H1075zM1086 847H1095V900.0H1086zM1119 803H1127V900.0H1119zM1129 814H1138V900.0H1129zM1140 840H1149V900.0H1140z" fill="rgba(255,0,0,0.62)" shape-rendering="crispEdges"/>
<path d="M100.6 719.00V900.50H1156" stroke="#222" stroke-width="1.2" fill="none"/>
<path d="M100.6 712.40l3.6 7.2h-7.2z M1163.5 900.50l-8 3.6v-7.2z" fill="#000"/>
<path d="M98.3 725.50H103M98.3 760.50H103M98.3 795.50H103M98.3 830.50H103M98.3 865.50H103M98.3 900.50H103M105.50 898.00V902.70M159.62 898.00V902.70M213.75 898.00V902.70M267.88 898.00V902.70M322.00 898.00V902.70M376.12 898.00V902.70M430.25 898.00V902.70M484.38 898.00V902.70M538.50 898.00V902.70M592.62 898.00V902.70M646.75 898.00V902.70M700.88 898.00V902.70M755.00 898.00V902.70M809.13 898.00V902.70M863.25 898.00V902.70M917.38 898.00V902.70M971.50 898.00V902.70M1025.62 898.00V902.70M1079.75 898.00V902.70M1133.88 898.00V902.70" stroke="#222" stroke-width="1.2" fill="none"/>
<path d="M97.6 742.50H100.3M97.6 777.50H100.3M97.6 812.50H100.3M97.6 847.50H100.3M97.6 882.50H100.3" stroke="#ff0000" stroke-width="1" fill="none" shape-rendering="crispEdges"/>
<text x="99.10" y="728.30" font-size="10.5" text-anchor="end" textLength="63.56" lengthAdjust="spacingAndGlyphs" fill="#000">100,000.00</text>
<text x="99.10" y="763.30" font-size="10.5" text-anchor="end" textLength="56.77" lengthAdjust="spacingAndGlyphs" fill="#000">80,000.00</text>
<text x="99.10" y="798.30" font-size="10.5" text-anchor="end" textLength="56.77" lengthAdjust="spacingAndGlyphs" fill="#000">60,000.00</text>
<text x="99.10" y="833.30" font-size="10.5" text-anchor="end" textLength="56.77" lengthAdjust="spacingAndGlyphs" fill="#000">40,000.00</text>
<text x="99.10" y="868.30" font-size="10.5" text-anchor="end" textLength="56.77" lengthAdjust="spacingAndGlyphs" fill="#000">20,000.00</text>
<text x="99.10" y="905.00" font-size="10.5" text-anchor="end" textLength="24.84" lengthAdjust="spacingAndGlyphs" fill="#000">0.00</text>
<text x="106.40" y="913.70" font-size="10.5" text-anchor="middle" textLength="39.47" lengthAdjust="spacingAndGlyphs" fill="#000">16 Déc</text>
<text x="160.53" y="913.70" font-size="10.5" text-anchor="middle" textLength="39.47" lengthAdjust="spacingAndGlyphs" fill="#000">23 Déc</text>
<text x="214.65" y="912.60" font-size="10.5" text-anchor="middle" textLength="35.38" lengthAdjust="spacingAndGlyphs" fill="#000">2 Janv</text>
<text x="268.77" y="912.60" font-size="10.5" text-anchor="middle" textLength="35.38" lengthAdjust="spacingAndGlyphs" fill="#000">9 Janv</text>
<text x="322.90" y="912.60" font-size="10.5" text-anchor="middle" textLength="42.17" lengthAdjust="spacingAndGlyphs" fill="#000">16 Janv</text>
<text x="377.02" y="912.60" font-size="10.5" text-anchor="middle" textLength="42.17" lengthAdjust="spacingAndGlyphs" fill="#000">23 Janv</text>
<text x="431.15" y="912.60" font-size="10.5" text-anchor="middle" textLength="42.17" lengthAdjust="spacingAndGlyphs" fill="#000">30 Janv</text>
<text x="485.28" y="913.70" font-size="10.5" text-anchor="middle" textLength="29.85" lengthAdjust="spacingAndGlyphs" fill="#000">6 Fév</text>
<text x="539.40" y="913.70" font-size="10.5" text-anchor="middle" textLength="36.64" lengthAdjust="spacingAndGlyphs" fill="#000">13 Fév</text>
<text x="593.52" y="913.70" font-size="10.5" text-anchor="middle" textLength="36.64" lengthAdjust="spacingAndGlyphs" fill="#000">20 Fév</text>
<text x="647.65" y="913.70" font-size="10.5" text-anchor="middle" textLength="36.64" lengthAdjust="spacingAndGlyphs" fill="#000">27 Fév</text>
<text x="701.78" y="912.60" font-size="10.5" text-anchor="middle" textLength="36.56" lengthAdjust="spacingAndGlyphs" fill="#000">6 Mars</text>
<text x="755.90" y="912.60" font-size="10.5" text-anchor="middle" textLength="43.35" lengthAdjust="spacingAndGlyphs" fill="#000">13 Mars</text>
<text x="810.03" y="912.60" font-size="10.5" text-anchor="middle" textLength="43.35" lengthAdjust="spacingAndGlyphs" fill="#000">20 Mars</text>
<text x="864.15" y="912.60" font-size="10.5" text-anchor="middle" textLength="43.35" lengthAdjust="spacingAndGlyphs" fill="#000">27 Mars</text>
<text x="918.28" y="912.60" font-size="10.5" text-anchor="middle" textLength="29.21" lengthAdjust="spacingAndGlyphs" fill="#000">7 Avr</text>
<text x="972.40" y="912.60" font-size="10.5" text-anchor="middle" textLength="36.00" lengthAdjust="spacingAndGlyphs" fill="#000">14 Avr</text>
<text x="1026.53" y="912.60" font-size="10.5" text-anchor="middle" textLength="36.00" lengthAdjust="spacingAndGlyphs" fill="#000">21 Avr</text>
<text x="1080.65" y="912.60" font-size="10.5" text-anchor="middle" textLength="36.00" lengthAdjust="spacingAndGlyphs" fill="#000">28 Avr</text>
<text x="1134.78" y="913.30" font-size="10.5" text-anchor="middle" textLength="29.37" lengthAdjust="spacingAndGlyphs" fill="#000">6 Mai</text>
<text x="626.90" y="925.30" font-size="10.5" text-anchor="middle" textLength="251.50" lengthAdjust="spacingAndGlyphs" fill="#000">Date (du 16 Décembre 2014 au 7 Mai 2015)</text>
<text x="33.40" y="810.80" font-size="10.5" text-anchor="middle" textLength="43.00" lengthAdjust="spacingAndGlyphs" fill="#000" transform="rotate(-90 33.40 810.80)">Volume</text>
<text x="110.60" y="994.50" font-size="23" text-anchor="start" textLength="642.25" lengthAdjust="spacingAndGlyphs" fill="#000">Vicat: graphique du RSI - RSI(14) - AnalyBourse.com</text>
<rect x="101.5" y="1060.00" width="1049.5" height="35.00" fill="#f8f8f8" shape-rendering="crispEdges"/>
<rect x="101.5" y="1130.00" width="1049.5" height="35.00" fill="#f8f8f8" shape-rendering="crispEdges"/>
<path d="M116.33 1026.00V1200.00M127.15 1026.00V1200.00M137.97 1026.00V1200.00M148.80 1026.00V1200.00M170.45 1026.00V1200.00M181.28 1026.00V1200.00M192.10 1026.00V1200.00M202.93 1026.00V1200.00M224.58 1026.00V1200.00M235.40 1026.00V1200.00M246.23 1026.00V1200.00M257.05 1026.00V1200.00M278.70 1026.00V1200.00M289.52 1026.00V1200.00M300.35 1026.00V1200.00M311.18 1026.00V1200.00M332.83 1026.00V1200.00M343.65 1026.00V1200.00M354.48 1026.00V1200.00M365.30 1026.00V1200.00M386.95 1026.00V1200.00M397.78 1026.00V1200.00M408.60 1026.00V1200.00M419.43 1026.00V1200.00M441.08 1026.00V1200.00M451.90 1026.00V1200.00M462.73 1026.00V1200.00M473.55 1026.00V1200.00M495.20 1026.00V1200.00M506.03 1026.00V1200.00M516.85 1026.00V1200.00M527.68 1026.00V1200.00M549.33 1026.00V1200.00M560.15 1026.00V1200.00M570.98 1026.00V1200.00M581.80 1026.00V1200.00M603.45 1026.00V1200.00M614.28 1026.00V1200.00M625.10 1026.00V1200.00M635.93 1026.00V1200.00M657.58 1026.00V1200.00M668.40 1026.00V1200.00M679.23 1026.00V1200.00M690.05 1026.00V1200.00M711.70 1026.00V1200.00M722.53 1026.00V1200.00M733.35 1026.00V1200.00M744.18 1026.00V1200.00M765.83 1026.00V1200.00M776.65 1026.00V1200.00M787.48 1026.00V1200.00M798.30 1026.00V1200.00M819.95 1026.00V1200.00M830.78 1026.00V1200.00M841.60 1026.00V1200.00M852.43 1026.00V1200.00M874.08 1026.00V1200.00M884.90 1026.00V1200.00M895.73 1026.00V1200.00M906.55 1026.00V1200.00M928.20 1026.00V1200.00M939.03 1026.00V1200.00M949.85 1026.00V1200.00M960.68 1026.00V1200.00M982.33 1026.00V1200.00M993.15 1026.00V1200.00M1003.98 1026.00V1200.00M1014.80 1026.00V1200.00M1036.45 1026.00V1200.00M1047.28 1026.00V1200.00M1058.10 1026.00V1200.00M1068.93 1026.00V1200.00M1090.58 1026.00V1200.00M1101.40 1026.00V1200.00M1112.23 1026.00V1200.00M1123.05 1026.00V1200.00M1144.70 1026.00V1200.00" stroke="rgba(0,0,0,0.026)" stroke-width="1" stroke-dasharray="4 4" fill="none" shape-rendering="crispEdges"/>
<path d="M105.50 1026.00V1200.00M159.62 1026.00V1200.00M213.75 1026.00V1200.00M267.88 1026.00V1200.00M322.00 1026.00V1200.00M376.12 1026.00V1200.00M430.25 1026.00V1200.00M484.38 1026.00V1200.00M538.50 1026.00V1200.00M592.62 1026.00V1200.00M646.75 1026.00V1200.00M700.88 1026.00V1200.00M755.00 1026.00V1200.00M809.13 1026.00V1200.00M863.25 1026.00V1200.00M917.38 1026.00V1200.00M971.50 1026.00V1200.00M1025.62 1026.00V1200.00M1079.75 1026.00V1200.00M1133.88 1026.00V1200.00" stroke="#e0e0e0" stroke-width="1" stroke-dasharray="4 4" fill="none" shape-rendering="crispEdges"/>
<path d="M107 1025.50H1151.0M107 1060.50H1151.0M107 1095.50H1151.0M107 1130.50H1151.0M107 1165.50H1151.0" stroke="#e0e0e0" stroke-width="1" stroke-dasharray="4 4" fill="none" shape-rendering="crispEdges"/>
<path d="M105 1112.5H1145" stroke="#606060" stroke-width="1" fill="none" shape-rendering="crispEdges"/>
<path d="M105.5 1117.3C106.2 1117.1 114.9 1115.0 116.3 1114.7C117.8 1114.4 125.7 1113.2 127.2 1113.3C128.6 1113.4 136.5 1116.5 138.0 1115.7C139.4 1114.9 147.4 1101.8 148.8 1100.7C150.2 1099.6 158.2 1098.9 159.6 1098.7C161.1 1098.5 169.0 1096.8 170.4 1097.0C171.9 1097.2 179.8 1101.5 181.3 1102.0C182.7 1102.5 190.7 1104.7 192.1 1104.7C193.5 1104.7 201.5 1101.5 202.9 1102.3C204.4 1103.1 212.3 1114.5 213.8 1116.0C215.2 1117.5 223.1 1124.0 224.6 1124.3C226.0 1124.6 234.0 1120.6 235.4 1120.3C236.8 1120.0 244.8 1121.1 246.2 1120.0C247.7 1118.9 255.6 1103.9 257.1 1103.3C258.5 1102.7 266.4 1110.9 267.9 1111.7C269.3 1112.5 277.3 1114.6 278.7 1114.7C280.1 1114.8 288.1 1112.2 289.5 1112.7C291.0 1113.2 298.9 1121.4 300.4 1121.7C301.8 1122.0 309.7 1117.6 311.2 1117.3C312.6 1117.0 320.6 1117.1 322.0 1117.3C323.4 1117.5 331.4 1119.7 332.8 1119.7C334.3 1119.7 342.2 1117.5 343.7 1117.3C345.1 1117.1 353.0 1118.6 354.5 1117.0C355.9 1115.4 363.9 1095.1 365.3 1092.7C366.7 1090.3 374.7 1082.9 376.1 1081.7C377.6 1080.5 385.5 1073.4 387.0 1074.0C388.4 1074.6 396.3 1090.0 397.8 1091.0C399.2 1092.0 407.2 1089.3 408.6 1089.3C410.0 1089.3 418.0 1090.5 419.4 1090.3C420.9 1090.1 428.8 1085.0 430.3 1085.7C431.7 1086.4 439.6 1100.3 441.1 1101.3C442.5 1102.3 450.5 1101.7 451.9 1101.0C453.3 1100.3 461.3 1092.4 462.7 1091.3C464.2 1090.2 472.1 1084.3 473.6 1084.0C475.0 1083.7 482.9 1085.9 484.4 1086.7C485.8 1087.5 493.8 1095.9 495.2 1096.3C496.6 1096.7 504.6 1092.5 506.0 1092.3C507.5 1092.1 515.4 1093.6 516.9 1093.3C518.3 1093.0 526.2 1088.6 527.7 1088.3C529.1 1088.0 537.1 1088.5 538.5 1088.7C539.9 1088.9 547.9 1090.3 549.3 1090.7C550.8 1091.1 558.7 1094.5 560.2 1094.3C561.6 1094.1 569.5 1088.7 571.0 1088.3C572.4 1087.9 580.4 1088.5 581.8 1088.7C583.2 1088.9 591.2 1091.3 592.6 1091.3C594.1 1091.3 602.0 1089.4 603.5 1089.3C604.9 1089.2 612.8 1090.5 614.3 1090.3C615.7 1090.1 623.7 1086.4 625.1 1086.0C626.5 1085.6 634.5 1083.3 635.9 1084.0C637.4 1084.7 645.3 1095.7 646.8 1096.7C648.2 1097.7 656.1 1099.7 657.6 1099.7C659.0 1099.7 667.0 1096.9 668.4 1096.7C669.8 1096.5 677.8 1096.4 679.2 1096.0C680.7 1095.6 688.6 1090.3 690.1 1090.3C691.5 1090.3 699.4 1095.2 700.9 1096.7C702.3 1098.2 710.3 1111.9 711.7 1113.3C713.1 1114.7 721.1 1118.7 722.5 1118.3C724.0 1117.9 731.9 1108.5 733.4 1106.7C734.8 1104.9 742.7 1093.0 744.2 1091.7C745.6 1090.4 753.6 1087.3 755.0 1086.7C756.4 1086.1 764.4 1081.9 765.8 1083.3C767.3 1084.7 775.2 1106.6 776.7 1107.3C778.1 1108.0 786.0 1095.3 787.5 1094.3C788.9 1093.3 796.9 1091.8 798.3 1092.3C799.7 1092.8 807.7 1100.7 809.1 1101.3C810.6 1101.9 818.5 1101.0 820.0 1100.7C821.4 1100.4 829.3 1096.6 830.8 1096.3C832.2 1096.0 840.2 1095.7 841.6 1096.3C843.0 1096.9 851.0 1105.0 852.4 1105.0C853.9 1105.0 861.8 1098.7 863.3 1096.7C864.7 1094.7 872.6 1076.8 874.1 1075.3C875.5 1073.8 883.5 1073.4 884.9 1074.7C886.3 1076.0 894.3 1094.0 895.7 1095.0C897.2 1096.0 905.1 1089.1 906.6 1089.3C908.0 1089.5 915.9 1097.6 917.4 1098.3C918.8 1099.0 926.8 1099.6 928.2 1099.3C929.6 1099.0 937.6 1093.2 939.0 1093.3C940.5 1093.4 948.4 1100.5 949.9 1101.0C951.3 1101.5 959.2 1101.1 960.7 1101.3C962.1 1101.5 970.1 1103.8 971.5 1103.3C972.9 1102.8 980.9 1094.4 982.3 1094.3C983.8 1094.2 991.7 1100.5 993.2 1101.7C994.6 1102.9 1002.5 1112.6 1004.0 1113.0C1005.4 1113.4 1013.4 1107.4 1014.8 1107.3C1016.2 1107.2 1024.2 1110.5 1025.6 1111.0C1027.1 1111.5 1035.0 1114.1 1036.5 1114.7C1037.9 1115.3 1045.8 1120.7 1047.3 1120.3C1048.7 1119.9 1056.7 1110.4 1058.1 1109.3C1059.5 1108.2 1067.5 1102.9 1068.9 1103.3C1070.4 1103.7 1078.3 1113.2 1079.8 1115.0C1081.2 1116.8 1089.1 1129.4 1090.6 1130.0C1092.0 1130.6 1100.0 1124.9 1101.4 1124.3C1102.8 1123.7 1110.8 1120.1 1112.2 1120.3C1113.7 1120.5 1121.6 1126.9 1123.1 1127.7C1124.5 1128.5 1132.4 1131.1 1133.9 1132.3C1135.3 1133.5 1144.0 1144.2 1144.7 1145.0" stroke="#fa5a5a" stroke-width="1" fill="none"/>
<path d="M100.6 1019.00V1200.50H1156" stroke="#222" stroke-width="1.2" fill="none"/>
<path d="M100.6 1012.40l3.6 7.2h-7.2z M1163.5 1200.50l-8 3.6v-7.2z" fill="#000"/>
<path d="M98.3 1025.50H103M98.3 1060.50H103M98.3 1095.50H103M98.3 1130.50H103M98.3 1165.50H103M98.3 1200.50H103M105.50 1198.00V1202.70M159.62 1198.00V1202.70M213.75 1198.00V1202.70M267.88 1198.00V1202.70M322.00 1198.00V1202.70M376.12 1198.00V1202.70M430.25 1198.00V1202.70M484.38 1198.00V1202.70M538.50 1198.00V1202.70M592.62 1198.00V1202.70M646.75 1198.00V1202.70M700.88 1198.00V1202.70M755.00 1198.00V1202.70M809.13 1198.00V1202.70M863.25 1198.00V1202.70M917.38 1198.00V1202.70M971.50 1198.00V1202.70M1025.62 1198.00V1202.70M1079.75 1198.00V1202.70M1133.88 1198.00V1202.70" stroke="#222" stroke-width="1.2" fill="none"/>
<path d="M97.6 1042.50H100.3M97.6 1077.50H100.3M97.6 1112.50H100.3M97.6 1147.50H100.3M97.6 1182.50H100.3" stroke="#ff0000" stroke-width="1" fill="none" shape-rendering="crispEdges"/>
<text x="99.10" y="1030.00" font-size="10.5" text-anchor="end" textLength="38.41" lengthAdjust="spacingAndGlyphs" fill="#000">100.00</text>
<text x="99.10" y="1065.00" font-size="10.5" text-anchor="end" textLength="31.63" lengthAdjust="spacingAndGlyphs" fill="#000">80.00</text>
<text x="99.10" y="1100.00" font-size="10.5" text-anchor="end" textLength="31.63" lengthAdjust="spacingAndGlyphs" fill="#000">60.00</text>
<text x="99.10" y="1135.00" font-size="10.5" text-anchor="end" textLength="31.63" lengthAdjust="spacingAndGlyphs" fill="#000">40.00</text>
<text x="99.10" y="1170.00" font-size="10.5" text-anchor="end" textLength="31.63" lengthAdjust="spacingAndGlyphs" fill="#000">20.00</text>
<text x="99.10" y="1205.00" font-size="10.5" text-anchor="end" textLength="24.84" lengthAdjust="spacingAndGlyphs" fill="#000">0.00</text>
<text x="106.40" y="1213.70" font-size="10.5" text-anchor="middle" textLength="39.47" lengthAdjust="spacingAndGlyphs" fill="#000">16 Déc</text>
<text x="160.53" y="1213.70" font-size="10.5" text-anchor="middle" textLength="39.47" lengthAdjust="spacingAndGlyphs" fill="#000">23 Déc</text>
<text x="214.65" y="1212.60" font-size="10.5" text-anchor="middle" textLength="35.38" lengthAdjust="spacingAndGlyphs" fill="#000">2 Janv</text>
<text x="268.77" y="1212.60" font-size="10.5" text-anchor="middle" textLength="35.38" lengthAdjust="spacingAndGlyphs" fill="#000">9 Janv</text>
<text x="322.90" y="1212.60" font-size="10.5" text-anchor="middle" textLength="42.17" lengthAdjust="spacingAndGlyphs" fill="#000">16 Janv</text>
<text x="377.02" y="1212.60" font-size="10.5" text-anchor="middle" textLength="42.17" lengthAdjust="spacingAndGlyphs" fill="#000">23 Janv</text>
<text x="431.15" y="1212.60" font-size="10.5" text-anchor="middle" textLength="42.17" lengthAdjust="spacingAndGlyphs" fill="#000">30 Janv</text>
<text x="485.28" y="1213.70" font-size="10.5" text-anchor="middle" textLength="29.85" lengthAdjust="spacingAndGlyphs" fill="#000">6 Fév</text>
<text x="539.40" y="1213.70" font-size="10.5" text-anchor="middle" textLength="36.64" lengthAdjust="spacingAndGlyphs" fill="#000">13 Fév</text>
<text x="593.52" y="1213.70" font-size="10.5" text-anchor="middle" textLength="36.64" lengthAdjust="spacingAndGlyphs" fill="#000">20 Fév</text>
<text x="647.65" y="1213.70" font-size="10.5" text-anchor="middle" textLength="36.64" lengthAdjust="spacingAndGlyphs" fill="#000">27 Fév</text>
<text x="701.78" y="1212.60" font-size="10.5" text-anchor="middle" textLength="36.56" lengthAdjust="spacingAndGlyphs" fill="#000">6 Mars</text>
<text x="755.90" y="1212.60" font-size="10.5" text-anchor="middle" textLength="43.35" lengthAdjust="spacingAndGlyphs" fill="#000">13 Mars</text>
<text x="810.03" y="1212.60" font-size="10.5" text-anchor="middle" textLength="43.35" lengthAdjust="spacingAndGlyphs" fill="#000">20 Mars</text>
<text x="864.15" y="1212.60" font-size="10.5" text-anchor="middle" textLength="43.35" lengthAdjust="spacingAndGlyphs" fill="#000">27 Mars</text>
<text x="918.28" y="1212.60" font-size="10.5" text-anchor="middle" textLength="29.21" lengthAdjust="spacingAndGlyphs" fill="#000">7 Avr</text>
<text x="972.40" y="1212.60" font-size="10.5" text-anchor="middle" textLength="36.00" lengthAdjust="spacingAndGlyphs" fill="#000">14 Avr</text>
<text x="1026.53" y="1212.60" font-size="10.5" text-anchor="middle" textLength="36.00" lengthAdjust="spacingAndGlyphs" fill="#000">21 Avr</text>
<text x="1080.65" y="1212.60" font-size="10.5" text-anchor="middle" textLength="36.00" lengthAdjust="spacingAndGlyphs" fill="#000">28 Avr</text>
<text x="1134.78" y="1213.30" font-size="10.5" text-anchor="middle" textLength="29.37" lengthAdjust="spacingAndGlyphs" fill="#000">6 Mai</text>
<text x="626.90" y="1225.30" font-size="10.5" text-anchor="middle" textLength="251.50" lengthAdjust="spacingAndGlyphs" fill="#000">Date (du 16 Décembre 2014 au 7 Mai 2015)</text>
<text x="58.00" y="1110.70" font-size="10.5" text-anchor="middle" textLength="19.50" lengthAdjust="spacingAndGlyphs" fill="#000" transform="rotate(-90 58.00 1110.70)">RSI</text>
<text x="110.60" y="1294.50" font-size="23" text-anchor="start" textLength="763.50" lengthAdjust="spacingAndGlyphs" fill="#000">Vicat: graphique du MACD - MACD(12,26,9) - AnalyBourse.com</text>
<rect x="101.5" y="1350.00" width="1049.5" height="25.00" fill="#f8f8f8" shape-rendering="crispEdges"/>
<rect x="101.5" y="1400.00" width="1049.5" height="25.00" fill="#f8f8f8" shape-rendering="crispEdges"/>
<rect x="101.5" y="1450.00" width="1049.5" height="25.00" fill="#f8f8f8" shape-rendering="crispEdges"/>
<path d="M116.33 1326.00V1500.00M127.15 1326.00V1500.00M137.97 1326.00V1500.00M148.80 1326.00V1500.00M170.45 1326.00V1500.00M181.28 1326.00V1500.00M192.10 1326.00V1500.00M202.93 1326.00V1500.00M224.58 1326.00V1500.00M235.40 1326.00V1500.00M246.23 1326.00V1500.00M257.05 1326.00V1500.00M278.70 1326.00V1500.00M289.52 1326.00V1500.00M300.35 1326.00V1500.00M311.18 1326.00V1500.00M332.83 1326.00V1500.00M343.65 1326.00V1500.00M354.48 1326.00V1500.00M365.30 1326.00V1500.00M386.95 1326.00V1500.00M397.78 1326.00V1500.00M408.60 1326.00V1500.00M419.43 1326.00V1500.00M441.08 1326.00V1500.00M451.90 1326.00V1500.00M462.73 1326.00V1500.00M473.55 1326.00V1500.00M495.20 1326.00V1500.00M506.03 1326.00V1500.00M516.85 1326.00V1500.00M527.68 1326.00V1500.00M549.33 1326.00V1500.00M560.15 1326.00V1500.00M570.98 1326.00V1500.00M581.80 1326.00V1500.00M603.45 1326.00V1500.00M614.28 1326.00V1500.00M625.10 1326.00V1500.00M635.93 1326.00V1500.00M657.58 1326.00V1500.00M668.40 1326.00V1500.00M679.23 1326.00V1500.00M690.05 1326.00V1500.00M711.70 1326.00V1500.00M722.53 1326.00V1500.00M733.35 1326.00V1500.00M744.18 1326.00V1500.00M765.83 1326.00V1500.00M776.65 1326.00V1500.00M787.48 1326.00V1500.00M798.30 1326.00V1500.00M819.95 1326.00V1500.00M830.78 1326.00V1500.00M841.60 1326.00V1500.00M852.43 1326.00V1500.00M874.08 1326.00V1500.00M884.90 1326.00V1500.00M895.73 1326.00V1500.00M906.55 1326.00V1500.00M928.20 1326.00V1500.00M939.03 1326.00V1500.00M949.85 1326.00V1500.00M960.68 1326.00V1500.00M982.33 1326.00V1500.00M993.15 1326.00V1500.00M1003.98 1326.00V1500.00M1014.80 1326.00V1500.00M1036.45 1326.00V1500.00M1047.28 1326.00V1500.00M1058.10 1326.00V1500.00M1068.93 1326.00V1500.00M1090.58 1326.00V1500.00M1101.40 1326.00V1500.00M1112.23 1326.00V1500.00M1123.05 1326.00V1500.00M1144.70 1326.00V1500.00" stroke="rgba(0,0,0,0.026)" stroke-width="1" stroke-dasharray="4 4" fill="none" shape-rendering="crispEdges"/>
<path d="M105.50 1326.00V1500.00M159.62 1326.00V1500.00M213.75 1326.00V1500.00M267.88 1326.00V1500.00M322.00 1326.00V1500.00M376.12 1326.00V1500.00M430.25 1326.00V1500.00M484.38 1326.00V1500.00M538.50 1326.00V1500.00M592.62 1326.00V1500.00M646.75 1326.00V1500.00M700.88 1326.00V1500.00M755.00 1326.00V1500.00M809.13 1326.00V1500.00M863.25 1326.00V1500.00M917.38 1326.00V1500.00M971.50 1326.00V1500.00M1025.62 1326.00V1500.00M1079.75 1326.00V1500.00M1133.88 1326.00V1500.00" stroke="#e0e0e0" stroke-width="1" stroke-dasharray="4 4" fill="none" shape-rendering="crispEdges"/>
<path d="M107 1325.50H1151.0M107 1350.50H1151.0M107 1375.50H1151.0M107 1400.50H1151.0M107 1425.50H1151.0M107 1450.50H1151.0M107 1475.50H1151.0" stroke="#e0e0e0" stroke-width="1" stroke-dasharray="4 4" fill="none" shape-rendering="crispEdges"/>
<clipPath id="cu"><rect x="0" y="1300" width="1200" height="100.29999999999995"/></clipPath><clipPath id="cd"><rect x="0" y="1400.3" width="1200" height="200"/></clipPath>
<path d="M105.5 1400.3L105.5 1485.0C106.9 1484.3 113.4 1481.7 116.3 1480.0C119.2 1478.3 124.3 1474.2 127.2 1472.3C130.0 1470.4 135.1 1469.3 138.0 1466.0C140.9 1462.7 145.9 1452.1 148.8 1447.7C151.7 1443.3 156.7 1436.2 159.6 1432.7C162.5 1429.2 167.6 1423.8 170.4 1421.7C173.3 1419.6 178.4 1417.6 181.3 1416.7C184.2 1415.8 189.2 1415.6 192.1 1415.0C195.0 1414.4 200.0 1411.1 202.9 1412.0C205.8 1412.9 210.9 1419.1 213.8 1421.7C216.6 1424.3 221.7 1429.9 224.6 1431.7C227.5 1433.5 232.5 1434.6 235.4 1435.0C238.3 1435.4 243.3 1436.7 246.2 1435.0C249.1 1433.3 254.2 1424.4 257.1 1422.3C259.9 1420.2 265.0 1419.4 267.9 1419.0C270.8 1418.6 275.8 1419.4 278.7 1419.0C281.6 1418.6 286.6 1415.8 289.5 1416.0C292.4 1416.2 297.5 1420.1 300.4 1420.7C303.2 1421.3 308.3 1420.8 311.2 1420.7C314.1 1420.6 319.1 1419.9 322.0 1419.7C324.9 1419.5 329.9 1419.7 332.8 1419.3C335.7 1418.9 340.8 1417.4 343.7 1416.7C346.5 1416.0 351.6 1416.9 354.5 1414.0C357.4 1411.1 362.4 1401.3 365.3 1395.0C368.2 1388.7 373.2 1373.1 376.1 1366.7C379.0 1360.3 384.1 1349.4 387.0 1346.7C389.8 1344.0 394.9 1346.6 397.8 1346.7C400.7 1346.8 405.7 1347.0 408.6 1347.7C411.5 1348.4 416.5 1351.0 419.4 1351.7C422.3 1352.4 427.4 1350.6 430.3 1352.7C433.1 1354.8 438.2 1364.0 441.1 1367.3C444.0 1370.6 449.0 1376.4 451.9 1377.3C454.8 1378.2 459.8 1375.0 462.7 1374.0C465.6 1373.0 470.7 1370.4 473.6 1370.0C476.4 1369.6 481.5 1369.7 484.4 1371.0C487.3 1372.3 492.3 1378.4 495.2 1380.0C498.1 1381.6 503.1 1382.2 506.0 1383.3C508.9 1384.4 514.0 1387.3 516.9 1388.0C519.7 1388.7 524.8 1388.2 527.7 1388.3C530.6 1388.4 535.6 1388.3 538.5 1389.0C541.4 1389.7 546.4 1392.0 549.3 1393.3C552.2 1394.6 557.3 1398.2 560.2 1399.0C563.0 1399.8 568.1 1399.1 571.0 1399.3C573.9 1399.5 578.9 1399.8 581.8 1400.3C584.7 1400.8 589.7 1402.5 592.6 1403.3C595.5 1404.1 600.6 1405.5 603.5 1406.0C606.3 1406.5 611.4 1407.2 614.3 1407.3C617.2 1407.4 622.2 1406.9 625.1 1406.7C628.0 1406.5 633.0 1405.4 635.9 1406.0C638.8 1406.6 643.9 1410.0 646.8 1411.3C649.6 1412.6 654.7 1415.1 657.6 1416.0C660.5 1416.9 665.5 1417.4 668.4 1417.7C671.3 1418.0 676.3 1418.2 679.2 1418.0C682.1 1417.8 687.2 1416.0 690.1 1416.0C692.9 1416.0 698.0 1416.9 700.9 1418.3C703.8 1419.7 708.8 1424.9 711.7 1426.7C714.6 1428.5 719.6 1431.4 722.5 1431.7C725.4 1432.0 730.5 1431.2 733.4 1429.3C736.2 1427.4 741.3 1420.5 744.2 1417.3C747.1 1414.1 752.1 1407.8 755.0 1405.0C757.9 1402.2 762.9 1396.4 765.8 1396.0C768.7 1395.6 773.8 1401.5 776.7 1401.8C779.5 1402.1 784.6 1399.4 787.5 1398.3C790.4 1397.2 795.4 1393.5 798.3 1393.3C801.2 1393.1 806.2 1395.9 809.1 1396.7C812.0 1397.5 817.1 1399.1 820.0 1399.3C822.8 1399.5 827.9 1398.3 830.8 1398.3C833.7 1398.3 838.7 1398.1 841.6 1399.0C844.5 1399.9 849.5 1404.4 852.4 1404.7C855.3 1405.0 860.4 1404.7 863.3 1401.0C866.1 1397.3 871.2 1381.5 874.1 1376.7C877.0 1371.9 882.0 1365.3 884.9 1364.7C887.8 1364.1 892.8 1370.8 895.7 1372.0C898.6 1373.2 903.7 1372.5 906.6 1374.0C909.4 1375.5 914.5 1381.0 917.4 1383.3C920.3 1385.6 925.3 1390.2 928.2 1391.3C931.1 1392.4 936.1 1390.5 939.0 1391.7C941.9 1392.9 947.0 1398.1 949.9 1400.0C952.7 1401.9 957.8 1404.3 960.7 1405.7C963.6 1407.1 968.6 1410.4 971.5 1410.7C974.4 1411.0 979.4 1407.7 982.3 1408.0C985.2 1408.3 990.3 1410.7 993.2 1412.7C996.0 1414.7 1001.1 1421.6 1004.0 1423.3C1006.9 1425.0 1011.9 1425.0 1014.8 1425.7C1017.7 1426.4 1022.7 1427.7 1025.6 1428.7C1028.5 1429.7 1033.6 1432.1 1036.5 1433.3C1039.3 1434.5 1044.4 1438.0 1047.3 1438.0C1050.2 1438.0 1055.2 1435.1 1058.1 1433.3C1061.0 1431.5 1066.0 1425.2 1068.9 1424.3C1071.8 1423.4 1076.9 1424.5 1079.8 1426.7C1082.6 1428.9 1087.7 1438.7 1090.6 1441.0C1093.5 1443.3 1098.5 1443.9 1101.4 1444.0C1104.3 1444.1 1109.3 1442.0 1112.2 1442.0C1115.1 1442.0 1120.2 1443.2 1123.1 1444.3C1125.9 1445.4 1131.0 1447.4 1133.9 1450.0C1136.8 1452.6 1143.3 1462.1 1144.7 1464.0L1144.7 1400.3z" fill="rgba(90,250,90,0.64)" clip-path="url(#cu)"/>
<path d="M105.5 1400.3L105.5 1485.0C106.9 1484.3 113.4 1481.7 116.3 1480.0C119.2 1478.3 124.3 1474.2 127.2 1472.3C130.0 1470.4 135.1 1469.3 138.0 1466.0C140.9 1462.7 145.9 1452.1 148.8 1447.7C151.7 1443.3 156.7 1436.2 159.6 1432.7C162.5 1429.2 167.6 1423.8 170.4 1421.7C173.3 1419.6 178.4 1417.6 181.3 1416.7C184.2 1415.8 189.2 1415.6 192.1 1415.0C195.0 1414.4 200.0 1411.1 202.9 1412.0C205.8 1412.9 210.9 1419.1 213.8 1421.7C216.6 1424.3 221.7 1429.9 224.6 1431.7C227.5 1433.5 232.5 1434.6 235.4 1435.0C238.3 1435.4 243.3 1436.7 246.2 1435.0C249.1 1433.3 254.2 1424.4 257.1 1422.3C259.9 1420.2 265.0 1419.4 267.9 1419.0C270.8 1418.6 275.8 1419.4 278.7 1419.0C281.6 1418.6 286.6 1415.8 289.5 1416.0C292.4 1416.2 297.5 1420.1 300.4 1420.7C303.2 1421.3 308.3 1420.8 311.2 1420.7C314.1 1420.6 319.1 1419.9 322.0 1419.7C324.9 1419.5 329.9 1419.7 332.8 1419.3C335.7 1418.9 340.8 1417.4 343.7 1416.7C346.5 1416.0 351.6 1416.9 354.5 1414.0C357.4 1411.1 362.4 1401.3 365.3 1395.0C368.2 1388.7 373.2 1373.1 376.1 1366.7C379.0 1360.3 384.1 1349.4 387.0 1346.7C389.8 1344.0 394.9 1346.6 397.8 1346.7C400.7 1346.8 405.7 1347.0 408.6 1347.7C411.5 1348.4 416.5 1351.0 419.4 1351.7C422.3 1352.4 427.4 1350.6 430.3 1352.7C433.1 1354.8 438.2 1364.0 441.1 1367.3C444.0 1370.6 449.0 1376.4 451.9 1377.3C454.8 1378.2 459.8 1375.0 462.7 1374.0C465.6 1373.0 470.7 1370.4 473.6 1370.0C476.4 1369.6 481.5 1369.7 484.4 1371.0C487.3 1372.3 492.3 1378.4 495.2 1380.0C498.1 1381.6 503.1 1382.2 506.0 1383.3C508.9 1384.4 514.0 1387.3 516.9 1388.0C519.7 1388.7 524.8 1388.2 527.7 1388.3C530.6 1388.4 535.6 1388.3 538.5 1389.0C541.4 1389.7 546.4 1392.0 549.3 1393.3C552.2 1394.6 557.3 1398.2 560.2 1399.0C563.0 1399.8 568.1 1399.1 571.0 1399.3C573.9 1399.5 578.9 1399.8 581.8 1400.3C584.7 1400.8 589.7 1402.5 592.6 1403.3C595.5 1404.1 600.6 1405.5 603.5 1406.0C606.3 1406.5 611.4 1407.2 614.3 1407.3C617.2 1407.4 622.2 1406.9 625.1 1406.7C628.0 1406.5 633.0 1405.4 635.9 1406.0C638.8 1406.6 643.9 1410.0 646.8 1411.3C649.6 1412.6 654.7 1415.1 657.6 1416.0C660.5 1416.9 665.5 1417.4 668.4 1417.7C671.3 1418.0 676.3 1418.2 679.2 1418.0C682.1 1417.8 687.2 1416.0 690.1 1416.0C692.9 1416.0 698.0 1416.9 700.9 1418.3C703.8 1419.7 708.8 1424.9 711.7 1426.7C714.6 1428.5 719.6 1431.4 722.5 1431.7C725.4 1432.0 730.5 1431.2 733.4 1429.3C736.2 1427.4 741.3 1420.5 744.2 1417.3C747.1 1414.1 752.1 1407.8 755.0 1405.0C757.9 1402.2 762.9 1396.4 765.8 1396.0C768.7 1395.6 773.8 1401.5 776.7 1401.8C779.5 1402.1 784.6 1399.4 787.5 1398.3C790.4 1397.2 795.4 1393.5 798.3 1393.3C801.2 1393.1 806.2 1395.9 809.1 1396.7C812.0 1397.5 817.1 1399.1 820.0 1399.3C822.8 1399.5 827.9 1398.3 830.8 1398.3C833.7 1398.3 838.7 1398.1 841.6 1399.0C844.5 1399.9 849.5 1404.4 852.4 1404.7C855.3 1405.0 860.4 1404.7 863.3 1401.0C866.1 1397.3 871.2 1381.5 874.1 1376.7C877.0 1371.9 882.0 1365.3 884.9 1364.7C887.8 1364.1 892.8 1370.8 895.7 1372.0C898.6 1373.2 903.7 1372.5 906.6 1374.0C909.4 1375.5 914.5 1381.0 917.4 1383.3C920.3 1385.6 925.3 1390.2 928.2 1391.3C931.1 1392.4 936.1 1390.5 939.0 1391.7C941.9 1392.9 947.0 1398.1 949.9 1400.0C952.7 1401.9 957.8 1404.3 960.7 1405.7C963.6 1407.1 968.6 1410.4 971.5 1410.7C974.4 1411.0 979.4 1407.7 982.3 1408.0C985.2 1408.3 990.3 1410.7 993.2 1412.7C996.0 1414.7 1001.1 1421.6 1004.0 1423.3C1006.9 1425.0 1011.9 1425.0 1014.8 1425.7C1017.7 1426.4 1022.7 1427.7 1025.6 1428.7C1028.5 1429.7 1033.6 1432.1 1036.5 1433.3C1039.3 1434.5 1044.4 1438.0 1047.3 1438.0C1050.2 1438.0 1055.2 1435.1 1058.1 1433.3C1061.0 1431.5 1066.0 1425.2 1068.9 1424.3C1071.8 1423.4 1076.9 1424.5 1079.8 1426.7C1082.6 1428.9 1087.7 1438.7 1090.6 1441.0C1093.5 1443.3 1098.5 1443.9 1101.4 1444.0C1104.3 1444.1 1109.3 1442.0 1112.2 1442.0C1115.1 1442.0 1120.2 1443.2 1123.1 1444.3C1125.9 1445.4 1131.0 1447.4 1133.9 1450.0C1136.8 1452.6 1143.3 1462.1 1144.7 1464.0L1144.7 1400.3z" fill="rgba(250,90,90,0.64)" clip-path="url(#cd)"/>
<path d="M105 1400.3H1145" stroke="#96fa96" stroke-width="1" fill="none"/>
<path d="M100.6 1319.00V1500.50H1156" stroke="#222" stroke-width="1.2" fill="none"/>
<path d="M100.6 1312.40l3.6 7.2h-7.2z M1163.5 1500.50l-8 3.6v-7.2z" fill="#000"/>
<path d="M98.3 1325.50H103M98.3 1350.50H103M98.3 1375.50H103M98.3 1400.50H103M98.3 1425.50H103M98.3 1450.50H103M98.3 1475.50H103M98.3 1500.50H103M105.50 1498.00V1502.70M159.62 1498.00V1502.70M213.75 1498.00V1502.70M267.88 1498.00V1502.70M322.00 1498.00V1502.70M376.12 1498.00V1502.70M430.25 1498.00V1502.70M484.38 1498.00V1502.70M538.50 1498.00V1502.70M592.62 1498.00V1502.70M646.75 1498.00V1502.70M700.88 1498.00V1502.70M755.00 1498.00V1502.70M809.13 1498.00V1502.70M863.25 1498.00V1502.70M917.38 1498.00V1502.70M971.50 1498.00V1502.70M1025.62 1498.00V1502.70M1079.75 1498.00V1502.70M1133.88 1498.00V1502.70" stroke="#222" stroke-width="1.2" fill="none"/>
<path d="M97.6 1337.50H100.3M97.6 1362.50H100.3M97.6 1387.50H100.3M97.6 1412.50H100.3M97.6 1437.50H100.3M97.6 1462.50H100.3M97.6 1487.50H100.3" stroke="#ff0000" stroke-width="1" fill="none" shape-rendering="crispEdges"/>
<text x="99.10" y="1330.00" font-size="10.5" text-anchor="end" textLength="24.84" lengthAdjust="spacingAndGlyphs" fill="#000">0.60</text>
<text x="99.10" y="1355.00" font-size="10.5" text-anchor="end" textLength="24.84" lengthAdjust="spacingAndGlyphs" fill="#000">0.40</text>
<text x="99.10" y="1380.00" font-size="10.5" text-anchor="end" textLength="24.84" lengthAdjust="spacingAndGlyphs" fill="#000">0.20</text>
<text x="99.10" y="1405.00" font-size="10.5" text-anchor="end" textLength="24.84" lengthAdjust="spacingAndGlyphs" fill="#000">0.00</text>
<text x="99.10" y="1430.00" font-size="10.5" text-anchor="end" textLength="29.69" lengthAdjust="spacingAndGlyphs" fill="#000">-0.20</text>
<text x="99.10" y="1455.00" font-size="10.5" text-anchor="end" textLength="29.69" lengthAdjust="spacingAndGlyphs" fill="#000">-0.40</text>
<text x="99.10" y="1480.00" font-size="10.5" text-anchor="end" textLength="29.69" lengthAdjust="spacingAndGlyphs" fill="#000">-0.60</text>
<text x="99.10" y="1505.00" font-size="10.5" text-anchor="end" textLength="29.69" lengthAdjust="spacingAndGlyphs" fill="#000">-0.80</text>
<text x="106.40" y="1513.70" font-size="10.5" text-anchor="middle" textLength="39.47" lengthAdjust="spacingAndGlyphs" fill="#000">16 Déc</text>
<text x="160.53" y="1513.70" font-size="10.5" text-anchor="middle" textLength="39.47" lengthAdjust="spacingAndGlyphs" fill="#000">23 Déc</text>
<text x="214.65" y="1512.60" font-size="10.5" text-anchor="middle" textLength="35.38" lengthAdjust="spacingAndGlyphs" fill="#000">2 Janv</text>
<text x="268.77" y="1512.60" font-size="10.5" text-anchor="middle" textLength="35.38" lengthAdjust="spacingAndGlyphs" fill="#000">9 Janv</text>
<text x="322.90" y="1512.60" font-size="10.5" text-anchor="middle" textLength="42.17" lengthAdjust="spacingAndGlyphs" fill="#000">16 Janv</text>
<text x="377.02" y="1512.60" font-size="10.5" text-anchor="middle" textLength="42.17" lengthAdjust="spacingAndGlyphs" fill="#000">23 Janv</text>
<text x="431.15" y="1512.60" font-size="10.5" text-anchor="middle" textLength="42.17" lengthAdjust="spacingAndGlyphs" fill="#000">30 Janv</text>
<text x="485.28" y="1513.70" font-size="10.5" text-anchor="middle" textLength="29.85" lengthAdjust="spacingAndGlyphs" fill="#000">6 Fév</text>
<text x="539.40" y="1513.70" font-size="10.5" text-anchor="middle" textLength="36.64" lengthAdjust="spacingAndGlyphs" fill="#000">13 Fév</text>
<text x="593.52" y="1513.70" font-size="10.5" text-anchor="middle" textLength="36.64" lengthAdjust="spacingAndGlyphs" fill="#000">20 Fév</text>
<text x="647.65" y="1513.70" font-size="10.5" text-anchor="middle" textLength="36.64" lengthAdjust="spacingAndGlyphs" fill="#000">27 Fév</text>
<text x="701.78" y="1512.60" font-size="10.5" text-anchor="middle" textLength="36.56" lengthAdjust="spacingAndGlyphs" fill="#000">6 Mars</text>
<text x="755.90" y="1512.60" font-size="10.5" text-anchor="middle" textLength="43.35" lengthAdjust="spacingAndGlyphs" fill="#000">13 Mars</text>
<text x="810.03" y="1512.60" font-size="10.5" text-anchor="middle" textLength="43.35" lengthAdjust="spacingAndGlyphs" fill="#000">20 Mars</text>
<text x="864.15" y="1512.60" font-size="10.5" text-anchor="middle" textLength="43.35" lengthAdjust="spacingAndGlyphs" fill="#000">27 Mars</text>
<text x="918.28" y="1512.60" font-size="10.5" text-anchor="middle" textLength="29.21" lengthAdjust="spacingAndGlyphs" fill="#000">7 Avr</text>
<text x="972.40" y="1512.60" font-size="10.5" text-anchor="middle" textLength="36.00" lengthAdjust="spacingAndGlyphs" fill="#000">14 Avr</text>
<text x="1026.53" y="1512.60" font-size="10.5" text-anchor="middle" textLength="36.00" lengthAdjust="spacingAndGlyphs" fill="#000">21 Avr</text>
<text x="1080.65" y="1512.60" font-size="10.5" text-anchor="middle" textLength="36.00" lengthAdjust="spacingAndGlyphs" fill="#000">28 Avr</text>
<text x="1134.78" y="1513.30" font-size="10.5" text-anchor="middle" textLength="29.37" lengthAdjust="spacingAndGlyphs" fill="#000">6 Mai</text>
<text x="626.90" y="1525.30" font-size="10.5" text-anchor="middle" textLength="251.50" lengthAdjust="spacingAndGlyphs" fill="#000">Date (du 16 Décembre 2014 au 7 Mai 2015)</text>
<text x="67.20" y="1410.80" font-size="10.5" text-anchor="middle" textLength="34.00" lengthAdjust="spacingAndGlyphs" fill="#000" transform="rotate(-90 67.20 1410.80)">MACD</text>
</svg>
</body></html>
